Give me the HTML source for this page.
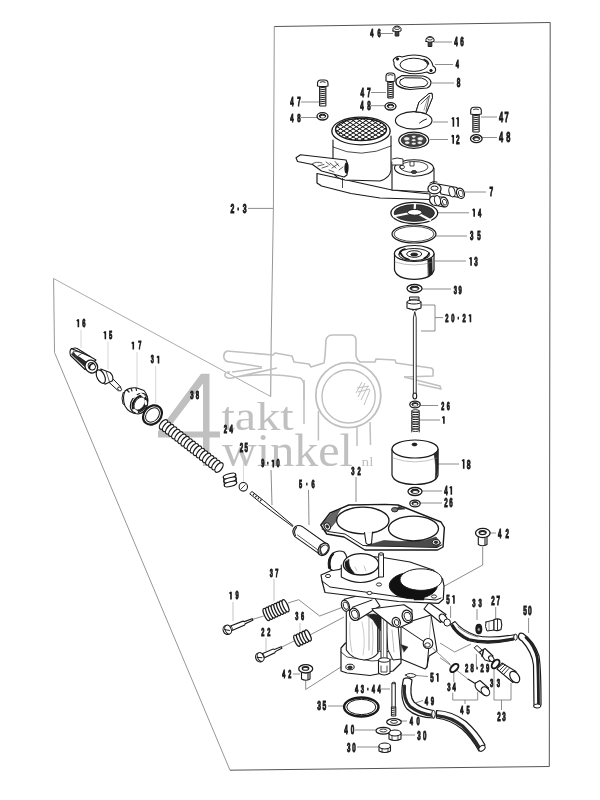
<!DOCTYPE html>
<html><head><meta charset="utf-8"><style>
html,body{margin:0;padding:0;background:#fff;}
svg{display:block;font-family:"Liberation Sans",sans-serif;filter:grayscale(1);}
</style></head><body>
<svg width="600" height="800" viewBox="0 0 600 800">
<rect width="600" height="800" fill="#fff"/>
<polyline points="274.3,26.5 550.2,22.5 549.3,766.5 230,770.2" fill="none" stroke="#555" stroke-width="1.0" stroke-linejoin="round" />
<polyline points="230,770.2 54.5,352.5 53.6,278.5" fill="none" stroke="#8a8a8a" stroke-width="0.9" stroke-linejoin="round" />
<polyline points="53.6,278.5 270.7,396.5" fill="none" stroke="#a0a0a0" stroke-width="0.9" stroke-linejoin="round" />
<polyline points="270.7,396.5 271.2,340 273.4,208 274.3,26.5" fill="none" stroke="#8a8a8a" stroke-width="0.9" stroke-linejoin="round" />
<path d="M201,373.7 L209.5,373.7 L209.5,431.5 L220,431.5 L220,437.5 L209.5,437.5 L209.5,466 L203,466 L203,437.5 L158,437.5 L158,431.5 Z M203,383.5 L166.5,431.5 L203,431.5 Z" fill="#c0c0c0" fill-rule="evenodd"/>
<text x="221.5" y="430" font-family="Liberation Serif" font-size="40" fill="#c0c0c0" textLength="72" lengthAdjust="spacingAndGlyphs">takt</text>
<text x="222" y="466" font-family="Liberation Serif" font-size="47" fill="#c0c0c0" textLength="131" lengthAdjust="spacingAndGlyphs">winkel</text>
<text x="361.5" y="465.5" font-family="Liberation Serif" font-size="12" fill="#c0c0c0" textLength="12" lengthAdjust="spacingAndGlyphs">nl</text>
<path d="M227,351 L273,355 L275,353 L292,356 L294,362 L309,364 L311,367 L324,363 L325,356 L326,340 Q327,335 333,335 L352,335 Q356,336 356,340 L356,356 Q357,360 360,362 L375,362 L376,359 L395,360 L396,363 L431,368 Q434,369 433,373 L433,376 L404,377" fill="none" stroke="#c0c0c0" stroke-width="1.6" stroke-linejoin="round"/>
<path d="M227,351 Q223,353 224,358 Q225,362 230,362 L262,367" fill="none" stroke="#c0c0c0" stroke-width="1.6" stroke-linejoin="round"/>
<path d="M230,372 Q224,372 225,376 Q227,379 232,378 L277,368 M232,372 L262,368 M235,377 Q270,372 300,378 Q304,380 304,386 L304,400" fill="none" stroke="#c0c0c0" stroke-width="1.6" stroke-linejoin="round"/>
<path d="M404,377 L440,386 L441,389 L418,384" fill="none" stroke="#c0c0c0" stroke-width="1.6" stroke-linejoin="round"/>
<ellipse cx="348.3" cy="395.2" rx="32.5" ry="32.5" fill="none" stroke="#c0c0c0" stroke-width="1.8" />
<ellipse cx="348.6" cy="396.4" rx="26.6" ry="26.6" fill="none" stroke="#c0c0c0" stroke-width="1.4" />
<path d="M362,382 L356,393 M365,383 L358,397 M368,386 L361,400 M370,390 L364,405 M357,388 L369,386 M358,392 L370,389" stroke="#c0c0c0" stroke-width="1"/>
<path d="M304,380 L304,424 M318.4,411 L318.4,440.5 M357,427 L357,446 M370,422 L370.5,445" stroke="#c0c0c0" stroke-width="1.5" fill="none"/>
<text transform="translate(371.95 37.25) scale(0.52 1)" text-anchor="middle" font-size="11.17" font-weight="bold" fill="#1a1a1a" stroke="#1a1a1a" stroke-width="0.8" style="vector-effect:non-scaling-stroke">4</text>
<text transform="translate(379.04 37.25) scale(0.52 1)" text-anchor="middle" font-size="11.17" font-weight="bold" fill="#1a1a1a" stroke="#1a1a1a" stroke-width="0.8" style="vector-effect:non-scaling-stroke">6</text>
<text transform="translate(456.12 46.45) scale(0.52 1)" text-anchor="middle" font-size="12.15" font-weight="bold" fill="#1a1a1a" stroke="#1a1a1a" stroke-width="0.8" style="vector-effect:non-scaling-stroke">4</text>
<text transform="translate(461.88 46.45) scale(0.52 1)" text-anchor="middle" font-size="12.15" font-weight="bold" fill="#1a1a1a" stroke="#1a1a1a" stroke-width="0.8" style="vector-effect:non-scaling-stroke">6</text>
<text transform="translate(457.25 68.05) scale(0.52 1)" text-anchor="middle" font-size="10.89" font-weight="bold" fill="#1a1a1a" stroke="#1a1a1a" stroke-width="0.8" style="vector-effect:non-scaling-stroke">4</text>
<text transform="translate(458.50 87.25) scale(0.52 1)" text-anchor="middle" font-size="12.57" font-weight="bold" fill="#1a1a1a" stroke="#1a1a1a" stroke-width="0.8" style="vector-effect:non-scaling-stroke">8</text>
<text transform="translate(292.07 105.75) scale(0.52 1)" text-anchor="middle" font-size="11.87" font-weight="bold" fill="#1a1a1a" stroke="#1a1a1a" stroke-width="0.8" style="vector-effect:non-scaling-stroke">4</text>
<text transform="translate(298.93 105.75) scale(0.52 1)" text-anchor="middle" font-size="11.87" font-weight="bold" fill="#1a1a1a" stroke="#1a1a1a" stroke-width="0.8" style="vector-effect:non-scaling-stroke">7</text>
<text transform="translate(292.02 122.25) scale(0.52 1)" text-anchor="middle" font-size="11.59" font-weight="bold" fill="#1a1a1a" stroke="#1a1a1a" stroke-width="0.8" style="vector-effect:non-scaling-stroke">4</text>
<text transform="translate(298.98 122.25) scale(0.52 1)" text-anchor="middle" font-size="11.59" font-weight="bold" fill="#1a1a1a" stroke="#1a1a1a" stroke-width="0.8" style="vector-effect:non-scaling-stroke">8</text>
<text transform="translate(362.19 97.25) scale(0.52 1)" text-anchor="middle" font-size="12.57" font-weight="bold" fill="#1a1a1a" stroke="#1a1a1a" stroke-width="0.8" style="vector-effect:non-scaling-stroke">4</text>
<text transform="translate(368.81 97.25) scale(0.52 1)" text-anchor="middle" font-size="12.57" font-weight="bold" fill="#1a1a1a" stroke="#1a1a1a" stroke-width="0.8" style="vector-effect:non-scaling-stroke">7</text>
<text transform="translate(362.07 109.75) scale(0.52 1)" text-anchor="middle" font-size="11.87" font-weight="bold" fill="#1a1a1a" stroke="#1a1a1a" stroke-width="0.8" style="vector-effect:non-scaling-stroke">4</text>
<text transform="translate(368.93 109.75) scale(0.52 1)" text-anchor="middle" font-size="11.87" font-weight="bold" fill="#1a1a1a" stroke="#1a1a1a" stroke-width="0.8" style="vector-effect:non-scaling-stroke">8</text>
<path d="M453.40,117.30 L453.40,126.80 M453.40,117.50 L451.80,119.00" stroke="#1a1a1a" stroke-width="1.6" fill="none" stroke-linecap="butt"/>
<path d="M458.10,117.30 L458.10,126.80 M458.10,117.50 L456.50,119.00" stroke="#1a1a1a" stroke-width="1.6" fill="none" stroke-linecap="butt"/>
<path d="M453.24,135.00 L453.24,143.80 M453.24,135.20 L451.64,136.70" stroke="#1a1a1a" stroke-width="1.6" fill="none" stroke-linecap="butt"/>
<text transform="translate(457.86 143.75) scale(0.52 1)" text-anchor="middle" font-size="12.29" font-weight="bold" fill="#1a1a1a" stroke="#1a1a1a" stroke-width="0.8" style="vector-effect:non-scaling-stroke">2</text>
<text transform="translate(501.16 122.45) scale(0.52 1)" text-anchor="middle" font-size="14.25" font-weight="bold" fill="#1a1a1a" stroke="#1a1a1a" stroke-width="0.8" style="vector-effect:non-scaling-stroke">4</text>
<text transform="translate(506.54 122.45) scale(0.52 1)" text-anchor="middle" font-size="14.25" font-weight="bold" fill="#1a1a1a" stroke="#1a1a1a" stroke-width="0.8" style="vector-effect:non-scaling-stroke">7</text>
<text transform="translate(501.16 142.45) scale(0.52 1)" text-anchor="middle" font-size="14.25" font-weight="bold" fill="#1a1a1a" stroke="#1a1a1a" stroke-width="0.8" style="vector-effect:non-scaling-stroke">4</text>
<text transform="translate(508.24 142.45) scale(0.52 1)" text-anchor="middle" font-size="14.25" font-weight="bold" fill="#1a1a1a" stroke="#1a1a1a" stroke-width="0.8" style="vector-effect:non-scaling-stroke">8</text>
<text transform="translate(491.40 195.95) scale(0.52 1)" text-anchor="middle" font-size="12.57" font-weight="bold" fill="#1a1a1a" stroke="#1a1a1a" stroke-width="0.8" style="vector-effect:non-scaling-stroke">7</text>
<text transform="translate(232.30 212.75) scale(0.52 1)" text-anchor="middle" font-size="13.27" font-weight="bold" fill="#1a1a1a" stroke="#1a1a1a" stroke-width="0.8" style="vector-effect:non-scaling-stroke">2</text>
<text transform="translate(238.50 212.75) scale(0.52 1)" text-anchor="middle" font-size="13.27" font-weight="bold" fill="#1a1a1a" stroke="#1a1a1a" stroke-width="0.8" style="vector-effect:non-scaling-stroke">·</text>
<text transform="translate(244.70 212.75) scale(0.52 1)" text-anchor="middle" font-size="13.27" font-weight="bold" fill="#1a1a1a" stroke="#1a1a1a" stroke-width="0.8" style="vector-effect:non-scaling-stroke">3</text>
<path d="M474.18,208.70 L474.18,216.80 M474.18,208.90 L472.58,210.40" stroke="#1a1a1a" stroke-width="1.6" fill="none" stroke-linecap="butt"/>
<text transform="translate(479.62 216.75) scale(0.52 1)" text-anchor="middle" font-size="11.31" font-weight="bold" fill="#1a1a1a" stroke="#1a1a1a" stroke-width="0.8" style="vector-effect:non-scaling-stroke">4</text>
<text transform="translate(471.77 239.75) scale(0.52 1)" text-anchor="middle" font-size="11.87" font-weight="bold" fill="#1a1a1a" stroke="#1a1a1a" stroke-width="0.8" style="vector-effect:non-scaling-stroke">3</text>
<text transform="translate(478.93 239.75) scale(0.52 1)" text-anchor="middle" font-size="11.87" font-weight="bold" fill="#1a1a1a" stroke="#1a1a1a" stroke-width="0.8" style="vector-effect:non-scaling-stroke">5</text>
<path d="M471.07,257.30 L471.07,265.80 M471.07,257.50 L469.47,259.00" stroke="#1a1a1a" stroke-width="1.6" fill="none" stroke-linecap="butt"/>
<text transform="translate(475.93 265.75) scale(0.52 1)" text-anchor="middle" font-size="11.87" font-weight="bold" fill="#1a1a1a" stroke="#1a1a1a" stroke-width="0.8" style="vector-effect:non-scaling-stroke">3</text>
<text transform="translate(455.35 293.75) scale(0.52 1)" text-anchor="middle" font-size="11.17" font-weight="bold" fill="#1a1a1a" stroke="#1a1a1a" stroke-width="0.8" style="vector-effect:non-scaling-stroke">3</text>
<text transform="translate(460.04 293.75) scale(0.52 1)" text-anchor="middle" font-size="11.17" font-weight="bold" fill="#1a1a1a" stroke="#1a1a1a" stroke-width="0.8" style="vector-effect:non-scaling-stroke">9</text>
<text transform="translate(446.95 322.25) scale(0.52 1)" text-anchor="middle" font-size="11.17" font-weight="bold" fill="#1a1a1a" stroke="#1a1a1a" stroke-width="0.8" style="vector-effect:non-scaling-stroke">2</text>
<text transform="translate(452.88 322.25) scale(0.52 1)" text-anchor="middle" font-size="11.17" font-weight="bold" fill="#1a1a1a" stroke="#1a1a1a" stroke-width="0.8" style="vector-effect:non-scaling-stroke">0</text>
<text transform="translate(458.50 322.25) scale(0.52 1)" text-anchor="middle" font-size="11.17" font-weight="bold" fill="#1a1a1a" stroke="#1a1a1a" stroke-width="0.8" style="vector-effect:non-scaling-stroke">·</text>
<text transform="translate(464.12 322.25) scale(0.52 1)" text-anchor="middle" font-size="11.17" font-weight="bold" fill="#1a1a1a" stroke="#1a1a1a" stroke-width="0.8" style="vector-effect:non-scaling-stroke">2</text>
<path d="M470.44,314.30 L470.44,322.30 M470.44,314.50 L468.84,316.00" stroke="#1a1a1a" stroke-width="1.6" fill="none" stroke-linecap="butt"/>
<text transform="translate(442.84 409.75) scale(0.52 1)" text-anchor="middle" font-size="10.47" font-weight="bold" fill="#1a1a1a" stroke="#1a1a1a" stroke-width="0.8" style="vector-effect:non-scaling-stroke">2</text>
<text transform="translate(448.16 409.75) scale(0.52 1)" text-anchor="middle" font-size="10.47" font-weight="bold" fill="#1a1a1a" stroke="#1a1a1a" stroke-width="0.8" style="vector-effect:non-scaling-stroke">6</text>
<path d="M443.90,416.30 L443.90,423.80 M443.90,416.50 L442.30,418.00" stroke="#1a1a1a" stroke-width="1.6" fill="none" stroke-linecap="butt"/>
<path d="M463.70,459.30 L463.70,468.80 M463.70,459.50 L462.10,461.00" stroke="#1a1a1a" stroke-width="1.6" fill="none" stroke-linecap="butt"/>
<text transform="translate(468.70 468.75) scale(0.52 1)" text-anchor="middle" font-size="13.27" font-weight="bold" fill="#1a1a1a" stroke="#1a1a1a" stroke-width="0.8" style="vector-effect:non-scaling-stroke">8</text>
<text transform="translate(446.07 494.75) scale(0.52 1)" text-anchor="middle" font-size="11.87" font-weight="bold" fill="#1a1a1a" stroke="#1a1a1a" stroke-width="0.8" style="vector-effect:non-scaling-stroke">4</text>
<path d="M451.33,486.30 L451.33,494.80 M451.33,486.50 L449.73,488.00" stroke="#1a1a1a" stroke-width="1.6" fill="none" stroke-linecap="butt"/>
<text transform="translate(446.07 506.75) scale(0.52 1)" text-anchor="middle" font-size="11.87" font-weight="bold" fill="#1a1a1a" stroke="#1a1a1a" stroke-width="0.8" style="vector-effect:non-scaling-stroke">2</text>
<text transform="translate(450.93 506.75) scale(0.52 1)" text-anchor="middle" font-size="11.87" font-weight="bold" fill="#1a1a1a" stroke="#1a1a1a" stroke-width="0.8" style="vector-effect:non-scaling-stroke">6</text>
<text transform="translate(499.77 538.05) scale(0.52 1)" text-anchor="middle" font-size="11.87" font-weight="bold" fill="#1a1a1a" stroke="#1a1a1a" stroke-width="0.8" style="vector-effect:non-scaling-stroke">4</text>
<text transform="translate(507.23 538.05) scale(0.52 1)" text-anchor="middle" font-size="11.87" font-weight="bold" fill="#1a1a1a" stroke="#1a1a1a" stroke-width="0.8" style="vector-effect:non-scaling-stroke">2</text>
<text transform="translate(352.95 475.25) scale(0.52 1)" text-anchor="middle" font-size="11.17" font-weight="bold" fill="#1a1a1a" stroke="#1a1a1a" stroke-width="0.8" style="vector-effect:non-scaling-stroke">3</text>
<text transform="translate(359.04 475.25) scale(0.52 1)" text-anchor="middle" font-size="11.17" font-weight="bold" fill="#1a1a1a" stroke="#1a1a1a" stroke-width="0.8" style="vector-effect:non-scaling-stroke">2</text>
<text transform="translate(300.66 488.05) scale(0.52 1)" text-anchor="middle" font-size="10.89" font-weight="bold" fill="#1a1a1a" stroke="#1a1a1a" stroke-width="0.8" style="vector-effect:non-scaling-stroke">5</text>
<text transform="translate(306.88 488.05) scale(0.52 1)" text-anchor="middle" font-size="10.89" font-weight="bold" fill="#1a1a1a" stroke="#1a1a1a" stroke-width="0.8" style="vector-effect:non-scaling-stroke">·</text>
<text transform="translate(313.09 488.05) scale(0.52 1)" text-anchor="middle" font-size="10.89" font-weight="bold" fill="#1a1a1a" stroke="#1a1a1a" stroke-width="0.8" style="vector-effect:non-scaling-stroke">6</text>
<path d="M78.36,319.30 L78.36,327.30 M78.36,319.50 L76.76,321.00" stroke="#1a1a1a" stroke-width="1.6" fill="none" stroke-linecap="butt"/>
<text transform="translate(83.75 327.25) scale(0.52 1)" text-anchor="middle" font-size="11.17" font-weight="bold" fill="#1a1a1a" stroke="#1a1a1a" stroke-width="0.8" style="vector-effect:non-scaling-stroke">6</text>
<path d="M105.36,331.30 L105.36,339.30 M105.36,331.50 L103.76,333.00" stroke="#1a1a1a" stroke-width="1.6" fill="none" stroke-linecap="butt"/>
<text transform="translate(110.55 339.25) scale(0.52 1)" text-anchor="middle" font-size="11.17" font-weight="bold" fill="#1a1a1a" stroke="#1a1a1a" stroke-width="0.8" style="vector-effect:non-scaling-stroke">5</text>
<path d="M133.29,341.80 L133.29,349.50 M133.29,342.00 L131.69,343.50" stroke="#1a1a1a" stroke-width="1.6" fill="none" stroke-linecap="butt"/>
<text transform="translate(139.81 349.45) scale(0.52 1)" text-anchor="middle" font-size="10.75" font-weight="bold" fill="#1a1a1a" stroke="#1a1a1a" stroke-width="0.8" style="vector-effect:non-scaling-stroke">7</text>
<text transform="translate(152.39 363.45) scale(0.52 1)" text-anchor="middle" font-size="10.75" font-weight="bold" fill="#1a1a1a" stroke="#1a1a1a" stroke-width="0.8" style="vector-effect:non-scaling-stroke">3</text>
<path d="M158.51,355.80 L158.51,363.50 M158.51,356.00 L156.91,357.50" stroke="#1a1a1a" stroke-width="1.6" fill="none" stroke-linecap="butt"/>
<text transform="translate(192.00 399.45) scale(0.52 1)" text-anchor="middle" font-size="11.45" font-weight="bold" fill="#1a1a1a" stroke="#1a1a1a" stroke-width="0.8" style="vector-effect:non-scaling-stroke">3</text>
<text transform="translate(197.50 399.45) scale(0.52 1)" text-anchor="middle" font-size="11.45" font-weight="bold" fill="#1a1a1a" stroke="#1a1a1a" stroke-width="0.8" style="vector-effect:non-scaling-stroke">8</text>
<text transform="translate(225.52 433.05) scale(0.52 1)" text-anchor="middle" font-size="11.59" font-weight="bold" fill="#1a1a1a" stroke="#1a1a1a" stroke-width="0.8" style="vector-effect:non-scaling-stroke">2</text>
<text transform="translate(231.28 433.05) scale(0.52 1)" text-anchor="middle" font-size="11.59" font-weight="bold" fill="#1a1a1a" stroke="#1a1a1a" stroke-width="0.8" style="vector-effect:non-scaling-stroke">4</text>
<text transform="translate(241.37 451.75) scale(0.52 1)" text-anchor="middle" font-size="11.87" font-weight="bold" fill="#1a1a1a" stroke="#1a1a1a" stroke-width="0.8" style="vector-effect:non-scaling-stroke">2</text>
<text transform="translate(246.23 451.75) scale(0.52 1)" text-anchor="middle" font-size="11.87" font-weight="bold" fill="#1a1a1a" stroke="#1a1a1a" stroke-width="0.8" style="vector-effect:non-scaling-stroke">5</text>
<text transform="translate(262.89 467.45) scale(0.52 1)" text-anchor="middle" font-size="10.75" font-weight="bold" fill="#1a1a1a" stroke="#1a1a1a" stroke-width="0.8" style="vector-effect:non-scaling-stroke">9</text>
<text transform="translate(267.87 467.45) scale(0.52 1)" text-anchor="middle" font-size="10.75" font-weight="bold" fill="#1a1a1a" stroke="#1a1a1a" stroke-width="0.8" style="vector-effect:non-scaling-stroke">·</text>
<path d="M273.26,459.80 L273.26,467.50 M273.26,460.00 L271.66,461.50" stroke="#1a1a1a" stroke-width="1.6" fill="none" stroke-linecap="butt"/>
<text transform="translate(278.11 467.45) scale(0.52 1)" text-anchor="middle" font-size="10.75" font-weight="bold" fill="#1a1a1a" stroke="#1a1a1a" stroke-width="0.8" style="vector-effect:non-scaling-stroke">0</text>
<text transform="translate(271.39 577.25) scale(0.52 1)" text-anchor="middle" font-size="10.75" font-weight="bold" fill="#1a1a1a" stroke="#1a1a1a" stroke-width="0.8" style="vector-effect:non-scaling-stroke">3</text>
<text transform="translate(276.91 577.25) scale(0.52 1)" text-anchor="middle" font-size="10.75" font-weight="bold" fill="#1a1a1a" stroke="#1a1a1a" stroke-width="0.8" style="vector-effect:non-scaling-stroke">7</text>
<path d="M230.99,591.80 L230.99,599.50 M230.99,592.00 L229.39,593.50" stroke="#1a1a1a" stroke-width="1.6" fill="none" stroke-linecap="butt"/>
<text transform="translate(237.11 599.45) scale(0.52 1)" text-anchor="middle" font-size="10.75" font-weight="bold" fill="#1a1a1a" stroke="#1a1a1a" stroke-width="0.8" style="vector-effect:non-scaling-stroke">9</text>
<text transform="translate(296.89 620.45) scale(0.52 1)" text-anchor="middle" font-size="10.75" font-weight="bold" fill="#1a1a1a" stroke="#1a1a1a" stroke-width="0.8" style="vector-effect:non-scaling-stroke">3</text>
<text transform="translate(302.61 620.45) scale(0.52 1)" text-anchor="middle" font-size="10.75" font-weight="bold" fill="#1a1a1a" stroke="#1a1a1a" stroke-width="0.8" style="vector-effect:non-scaling-stroke">6</text>
<text transform="translate(262.91 635.75) scale(0.52 1)" text-anchor="middle" font-size="10.89" font-weight="bold" fill="#1a1a1a" stroke="#1a1a1a" stroke-width="0.8" style="vector-effect:non-scaling-stroke">2</text>
<text transform="translate(268.79 635.75) scale(0.52 1)" text-anchor="middle" font-size="10.89" font-weight="bold" fill="#1a1a1a" stroke="#1a1a1a" stroke-width="0.8" style="vector-effect:non-scaling-stroke">2</text>
<text transform="translate(283.86 677.55) scale(0.52 1)" text-anchor="middle" font-size="10.61" font-weight="bold" fill="#1a1a1a" stroke="#1a1a1a" stroke-width="0.8" style="vector-effect:non-scaling-stroke">4</text>
<text transform="translate(289.84 677.55) scale(0.52 1)" text-anchor="middle" font-size="10.61" font-weight="bold" fill="#1a1a1a" stroke="#1a1a1a" stroke-width="0.8" style="vector-effect:non-scaling-stroke">2</text>
<text transform="translate(448.07 603.75) scale(0.52 1)" text-anchor="middle" font-size="11.87" font-weight="bold" fill="#1a1a1a" stroke="#1a1a1a" stroke-width="0.8" style="vector-effect:non-scaling-stroke">5</text>
<path d="M453.93,595.30 L453.93,603.80 M453.93,595.50 L452.33,597.00" stroke="#1a1a1a" stroke-width="1.6" fill="none" stroke-linecap="butt"/>
<text transform="translate(473.98 606.75) scale(0.52 1)" text-anchor="middle" font-size="11.31" font-weight="bold" fill="#1a1a1a" stroke="#1a1a1a" stroke-width="0.8" style="vector-effect:non-scaling-stroke">3</text>
<text transform="translate(480.02 606.75) scale(0.52 1)" text-anchor="middle" font-size="11.31" font-weight="bold" fill="#1a1a1a" stroke="#1a1a1a" stroke-width="0.8" style="vector-effect:non-scaling-stroke">3</text>
<text transform="translate(493.07 604.75) scale(0.52 1)" text-anchor="middle" font-size="11.87" font-weight="bold" fill="#1a1a1a" stroke="#1a1a1a" stroke-width="0.8" style="vector-effect:non-scaling-stroke">2</text>
<text transform="translate(498.33 604.75) scale(0.52 1)" text-anchor="middle" font-size="11.87" font-weight="bold" fill="#1a1a1a" stroke="#1a1a1a" stroke-width="0.8" style="vector-effect:non-scaling-stroke">7</text>
<text transform="translate(525.01 615.35) scale(0.52 1)" text-anchor="middle" font-size="12.71" font-weight="bold" fill="#1a1a1a" stroke="#1a1a1a" stroke-width="0.8" style="vector-effect:non-scaling-stroke">5</text>
<text transform="translate(529.79 615.35) scale(0.52 1)" text-anchor="middle" font-size="12.71" font-weight="bold" fill="#1a1a1a" stroke="#1a1a1a" stroke-width="0.8" style="vector-effect:non-scaling-stroke">0</text>
<text transform="translate(466.68 671.75) scale(0.52 1)" text-anchor="middle" font-size="11.31" font-weight="bold" fill="#1a1a1a" stroke="#1a1a1a" stroke-width="0.8" style="vector-effect:non-scaling-stroke">2</text>
<text transform="translate(472.05 671.75) scale(0.52 1)" text-anchor="middle" font-size="11.31" font-weight="bold" fill="#1a1a1a" stroke="#1a1a1a" stroke-width="0.8" style="vector-effect:non-scaling-stroke">8</text>
<text transform="translate(477.15 671.75) scale(0.52 1)" text-anchor="middle" font-size="11.31" font-weight="bold" fill="#1a1a1a" stroke="#1a1a1a" stroke-width="0.8" style="vector-effect:non-scaling-stroke">·</text>
<text transform="translate(482.25 671.75) scale(0.52 1)" text-anchor="middle" font-size="11.31" font-weight="bold" fill="#1a1a1a" stroke="#1a1a1a" stroke-width="0.8" style="vector-effect:non-scaling-stroke">2</text>
<text transform="translate(487.62 671.75) scale(0.52 1)" text-anchor="middle" font-size="11.31" font-weight="bold" fill="#1a1a1a" stroke="#1a1a1a" stroke-width="0.8" style="vector-effect:non-scaling-stroke">9</text>
<text transform="translate(491.60 687.05) scale(0.52 1)" text-anchor="middle" font-size="11.45" font-weight="bold" fill="#1a1a1a" stroke="#1a1a1a" stroke-width="0.8" style="vector-effect:non-scaling-stroke">3</text>
<text transform="translate(498.40 687.05) scale(0.52 1)" text-anchor="middle" font-size="11.45" font-weight="bold" fill="#1a1a1a" stroke="#1a1a1a" stroke-width="0.8" style="vector-effect:non-scaling-stroke">3</text>
<text transform="translate(448.98 691.35) scale(0.52 1)" text-anchor="middle" font-size="11.31" font-weight="bold" fill="#1a1a1a" stroke="#1a1a1a" stroke-width="0.8" style="vector-effect:non-scaling-stroke">3</text>
<text transform="translate(454.02 691.35) scale(0.52 1)" text-anchor="middle" font-size="11.31" font-weight="bold" fill="#1a1a1a" stroke="#1a1a1a" stroke-width="0.8" style="vector-effect:non-scaling-stroke">4</text>
<text transform="translate(461.91 713.75) scale(0.52 1)" text-anchor="middle" font-size="10.89" font-weight="bold" fill="#1a1a1a" stroke="#1a1a1a" stroke-width="0.8" style="vector-effect:non-scaling-stroke">4</text>
<text transform="translate(468.09 713.75) scale(0.52 1)" text-anchor="middle" font-size="10.89" font-weight="bold" fill="#1a1a1a" stroke="#1a1a1a" stroke-width="0.8" style="vector-effect:non-scaling-stroke">5</text>
<text transform="translate(499.07 720.75) scale(0.52 1)" text-anchor="middle" font-size="11.87" font-weight="bold" fill="#1a1a1a" stroke="#1a1a1a" stroke-width="0.8" style="vector-effect:non-scaling-stroke">2</text>
<text transform="translate(503.93 720.75) scale(0.52 1)" text-anchor="middle" font-size="11.87" font-weight="bold" fill="#1a1a1a" stroke="#1a1a1a" stroke-width="0.8" style="vector-effect:non-scaling-stroke">3</text>
<text transform="translate(432.07 681.75) scale(0.52 1)" text-anchor="middle" font-size="11.87" font-weight="bold" fill="#1a1a1a" stroke="#1a1a1a" stroke-width="0.8" style="vector-effect:non-scaling-stroke">5</text>
<path d="M437.83,673.30 L437.83,681.80 M437.83,673.50 L436.23,675.00" stroke="#1a1a1a" stroke-width="1.6" fill="none" stroke-linecap="butt"/>
<text transform="translate(426.52 705.05) scale(0.52 1)" text-anchor="middle" font-size="11.59" font-weight="bold" fill="#1a1a1a" stroke="#1a1a1a" stroke-width="0.8" style="vector-effect:non-scaling-stroke">4</text>
<text transform="translate(432.48 705.05) scale(0.52 1)" text-anchor="middle" font-size="11.59" font-weight="bold" fill="#1a1a1a" stroke="#1a1a1a" stroke-width="0.8" style="vector-effect:non-scaling-stroke">9</text>
<text transform="translate(356.65 693.25) scale(0.52 1)" text-anchor="middle" font-size="11.17" font-weight="bold" fill="#1a1a1a" stroke="#1a1a1a" stroke-width="0.8" style="vector-effect:non-scaling-stroke">4</text>
<text transform="translate(362.40 693.25) scale(0.52 1)" text-anchor="middle" font-size="11.17" font-weight="bold" fill="#1a1a1a" stroke="#1a1a1a" stroke-width="0.8" style="vector-effect:non-scaling-stroke">3</text>
<text transform="translate(367.85 693.25) scale(0.52 1)" text-anchor="middle" font-size="11.17" font-weight="bold" fill="#1a1a1a" stroke="#1a1a1a" stroke-width="0.8" style="vector-effect:non-scaling-stroke">·</text>
<text transform="translate(373.30 693.25) scale(0.52 1)" text-anchor="middle" font-size="11.17" font-weight="bold" fill="#1a1a1a" stroke="#1a1a1a" stroke-width="0.8" style="vector-effect:non-scaling-stroke">4</text>
<text transform="translate(379.04 693.25) scale(0.52 1)" text-anchor="middle" font-size="11.17" font-weight="bold" fill="#1a1a1a" stroke="#1a1a1a" stroke-width="0.8" style="vector-effect:non-scaling-stroke">4</text>
<text transform="translate(319.23 710.45) scale(0.52 1)" text-anchor="middle" font-size="12.85" font-weight="bold" fill="#1a1a1a" stroke="#1a1a1a" stroke-width="0.8" style="vector-effect:non-scaling-stroke">3</text>
<text transform="translate(324.47 710.45) scale(0.52 1)" text-anchor="middle" font-size="12.85" font-weight="bold" fill="#1a1a1a" stroke="#1a1a1a" stroke-width="0.8" style="vector-effect:non-scaling-stroke">5</text>
<text transform="translate(411.25 725.25) scale(0.52 1)" text-anchor="middle" font-size="11.17" font-weight="bold" fill="#1a1a1a" stroke="#1a1a1a" stroke-width="0.8" style="vector-effect:non-scaling-stroke">4</text>
<text transform="translate(418.04 725.25) scale(0.52 1)" text-anchor="middle" font-size="11.17" font-weight="bold" fill="#1a1a1a" stroke="#1a1a1a" stroke-width="0.8" style="vector-effect:non-scaling-stroke">0</text>
<text transform="translate(346.12 734.45) scale(0.52 1)" text-anchor="middle" font-size="12.15" font-weight="bold" fill="#1a1a1a" stroke="#1a1a1a" stroke-width="0.8" style="vector-effect:non-scaling-stroke">4</text>
<text transform="translate(352.58 734.45) scale(0.52 1)" text-anchor="middle" font-size="12.15" font-weight="bold" fill="#1a1a1a" stroke="#1a1a1a" stroke-width="0.8" style="vector-effect:non-scaling-stroke">0</text>
<text transform="translate(419.07 739.75) scale(0.52 1)" text-anchor="middle" font-size="11.87" font-weight="bold" fill="#1a1a1a" stroke="#1a1a1a" stroke-width="0.8" style="vector-effect:non-scaling-stroke">3</text>
<text transform="translate(424.63 739.75) scale(0.52 1)" text-anchor="middle" font-size="11.87" font-weight="bold" fill="#1a1a1a" stroke="#1a1a1a" stroke-width="0.8" style="vector-effect:non-scaling-stroke">0</text>
<text transform="translate(348.77 751.75) scale(0.52 1)" text-anchor="middle" font-size="11.87" font-weight="bold" fill="#1a1a1a" stroke="#1a1a1a" stroke-width="0.8" style="vector-effect:non-scaling-stroke">3</text>
<text transform="translate(353.93 751.75) scale(0.52 1)" text-anchor="middle" font-size="11.87" font-weight="bold" fill="#1a1a1a" stroke="#1a1a1a" stroke-width="0.8" style="vector-effect:non-scaling-stroke">0</text>
<line x1="381" y1="33.5" x2="393" y2="33.5" stroke="#6e6e6e" stroke-width="0.8" />
<line x1="434" y1="42" x2="452" y2="42" stroke="#6e6e6e" stroke-width="0.8" />
<line x1="435" y1="64.5" x2="453" y2="64.5" stroke="#6e6e6e" stroke-width="0.8" />
<line x1="432" y1="83" x2="454" y2="83" stroke="#6e6e6e" stroke-width="0.8" />
<line x1="301" y1="102" x2="319" y2="102" stroke="#6e6e6e" stroke-width="0.8" />
<line x1="301" y1="117.5" x2="317" y2="117.5" stroke="#6e6e6e" stroke-width="0.8" />
<line x1="371" y1="92.5" x2="386" y2="92.5" stroke="#6e6e6e" stroke-width="0.8" />
<line x1="371" y1="105.7" x2="385" y2="105.7" stroke="#6e6e6e" stroke-width="0.8" />
<line x1="433" y1="122" x2="448" y2="122" stroke="#6e6e6e" stroke-width="0.8" />
<line x1="430" y1="139.5" x2="448" y2="139.5" stroke="#6e6e6e" stroke-width="0.8" />
<line x1="481" y1="117" x2="497" y2="117" stroke="#6e6e6e" stroke-width="0.8" />
<line x1="482" y1="137.5" x2="497" y2="137.5" stroke="#6e6e6e" stroke-width="0.8" />
<line x1="465" y1="192" x2="486" y2="192" stroke="#6e6e6e" stroke-width="0.8" />
<line x1="248" y1="208.4" x2="273" y2="208.4" stroke="#6e6e6e" stroke-width="0.8" />
<line x1="435" y1="212.8" x2="469" y2="212.8" stroke="#6e6e6e" stroke-width="0.8" />
<line x1="436" y1="236" x2="467" y2="236" stroke="#6e6e6e" stroke-width="0.8" />
<line x1="435" y1="261" x2="466" y2="261" stroke="#6e6e6e" stroke-width="0.8" />
<line x1="422" y1="289" x2="451" y2="289" stroke="#6e6e6e" stroke-width="0.8" />
<line x1="420" y1="405.5" x2="438" y2="405.5" stroke="#6e6e6e" stroke-width="0.8" />
<line x1="419" y1="420" x2="440" y2="420" stroke="#6e6e6e" stroke-width="0.8" />
<line x1="438" y1="464" x2="459" y2="464" stroke="#6e6e6e" stroke-width="0.8" />
<line x1="422" y1="491" x2="442" y2="491" stroke="#6e6e6e" stroke-width="0.8" />
<line x1="420" y1="503" x2="442" y2="503" stroke="#6e6e6e" stroke-width="0.8" />
<line x1="490" y1="533" x2="496" y2="533" stroke="#6e6e6e" stroke-width="0.8" />
<line x1="356" y1="477" x2="356" y2="502" stroke="#6e6e6e" stroke-width="0.8" />
<line x1="308.5" y1="490" x2="309" y2="525" stroke="#6e6e6e" stroke-width="0.8" />
<line x1="271" y1="470" x2="272" y2="505" stroke="#6e6e6e" stroke-width="0.8" />
<line x1="292.8" y1="674" x2="300" y2="674" stroke="#6e6e6e" stroke-width="0.8" />
<line x1="450.6" y1="606" x2="450.6" y2="618" stroke="#6e6e6e" stroke-width="0.8" />
<line x1="477" y1="609" x2="477" y2="620" stroke="#6e6e6e" stroke-width="0.8" />
<line x1="495.7" y1="607" x2="495.7" y2="620" stroke="#6e6e6e" stroke-width="0.8" />
<line x1="528.6" y1="618" x2="528.6" y2="633" stroke="#6e6e6e" stroke-width="0.8" />
<line x1="476.4" y1="654" x2="476.4" y2="667" stroke="#6e6e6e" stroke-width="0.8" />
<line x1="453.8" y1="672" x2="453.8" y2="682" stroke="#6e6e6e" stroke-width="0.8" />
<line x1="328" y1="706" x2="344" y2="706" stroke="#6e6e6e" stroke-width="0.8" />
<line x1="401" y1="721" x2="407" y2="721" stroke="#6e6e6e" stroke-width="0.8" />
<line x1="355" y1="730" x2="376" y2="730" stroke="#6e6e6e" stroke-width="0.8" />
<line x1="401" y1="735" x2="415" y2="735" stroke="#6e6e6e" stroke-width="0.8" />
<line x1="357" y1="747" x2="378" y2="747" stroke="#6e6e6e" stroke-width="0.8" />
<line x1="243.5" y1="454" x2="243.5" y2="482" stroke="#c8c8c8" stroke-width="0.7" />
<line x1="81" y1="330" x2="81" y2="348" stroke="#cccccc" stroke-width="0.8" />
<line x1="108" y1="341.5" x2="108" y2="369.5" stroke="#cccccc" stroke-width="0.8" />
<line x1="137" y1="352" x2="137" y2="387" stroke="#cccccc" stroke-width="0.8" />
<line x1="155.7" y1="366" x2="155.7" y2="403" stroke="#cccccc" stroke-width="0.8" />
<line x1="274" y1="579" x2="274" y2="601" stroke="#b4b4b4" stroke-width="0.8" />
<line x1="233" y1="602" x2="233" y2="621" stroke="#b4b4b4" stroke-width="0.8" />
<line x1="300" y1="623" x2="300" y2="632" stroke="#b4b4b4" stroke-width="0.8" />
<line x1="266" y1="638" x2="266" y2="651" stroke="#b4b4b4" stroke-width="0.8" />
<polyline points="421,305 435,305 435,331 421,331" fill="none" stroke="#6e6e6e" stroke-width="0.8" stroke-linejoin="round" />
<line x1="435" y1="317.6" x2="443" y2="317.6" stroke="#6e6e6e" stroke-width="0.8" />
<polyline points="452.75,692.7 452.75,700 477.7,700 477.7,692" fill="none" stroke="#6e6e6e" stroke-width="0.8" stroke-linejoin="round" />
<line x1="465" y1="700" x2="465" y2="704" stroke="#6e6e6e" stroke-width="0.8" />
<polyline points="494,669 494,700 511,700 511,683" fill="none" stroke="#6e6e6e" stroke-width="0.8" stroke-linejoin="round" />
<line x1="501.5" y1="700" x2="501.5" y2="710" stroke="#6e6e6e" stroke-width="0.8" />
<polyline points="482.7,546.7 482.7,565 443.3,586.7" fill="none" stroke="#6e6e6e" stroke-width="0.8" stroke-linejoin="round" />
<polyline points="305.7,681 305.7,689.5 347.7,662.7" fill="none" stroke="#6e6e6e" stroke-width="0.8" stroke-linejoin="round" />
<polyline points="252,619.5 263.7,616" fill="none" stroke="#6e6e6e" stroke-width="0.8" stroke-linejoin="round" />
<polyline points="288,603 298.7,599.7 319.7,616 344,606.7" fill="none" stroke="#6e6e6e" stroke-width="0.8" stroke-linejoin="round" />
<polyline points="281,647.5 294,641" fill="none" stroke="#6e6e6e" stroke-width="0.8" stroke-linejoin="round" />
<polyline points="310,635 344,617" fill="none" stroke="#6e6e6e" stroke-width="0.8" stroke-linejoin="round" />
<line x1="381" y1="689" x2="390" y2="689" stroke="#6e6e6e" stroke-width="0.8" />
<path d="M395.2,31.5 L395.2,36 L398.8,36 L398.8,31.5" fill="#444" stroke="#1a1a1a" stroke-width="1.0" stroke-linejoin="round" stroke-linecap="round" />
<path d="M393,31 L393,28.5 Q394,26 397,26 Q400,26 401,28.5 L401,31 Q397,32.5 393,31 Z" fill="#fff" stroke="#1a1a1a" stroke-width="1.0" stroke-linejoin="round" stroke-linecap="round" />
<ellipse cx="397" cy="28.2" rx="2.6" ry="1.3" fill="#fff" stroke="#1a1a1a" stroke-width="0.8" />
<path d="M428.2,42.0 L428.2,46.5 L431.8,46.5 L431.8,42.0" fill="#444" stroke="#1a1a1a" stroke-width="1.0" stroke-linejoin="round" stroke-linecap="round" />
<path d="M426,41.5 L426,39.0 Q427,36.5 430,36.5 Q433,36.5 434,39.0 L434,41.5 Q430,43.0 426,41.5 Z" fill="#fff" stroke="#1a1a1a" stroke-width="1.0" stroke-linejoin="round" stroke-linecap="round" />
<ellipse cx="430" cy="38.7" rx="2.6" ry="1.3" fill="#fff" stroke="#1a1a1a" stroke-width="0.8" />
<path d="M319.6,86 L319.6,106 L325.9,106 L325.9,86" fill="#fff" stroke="#1a1a1a" stroke-width="1.0" stroke-linejoin="round" stroke-linecap="round" />
<line x1="319.6" y1="88" x2="325.9" y2="87" stroke="#1a1a1a" stroke-width="1.0" />
<line x1="319.6" y1="90.0" x2="325.9" y2="89.0" stroke="#1a1a1a" stroke-width="1.0" />
<line x1="319.6" y1="92.0" x2="325.9" y2="91.0" stroke="#1a1a1a" stroke-width="1.0" />
<line x1="319.6" y1="94.0" x2="325.9" y2="93.0" stroke="#1a1a1a" stroke-width="1.0" />
<line x1="319.6" y1="96.0" x2="325.9" y2="95.0" stroke="#1a1a1a" stroke-width="1.0" />
<line x1="319.6" y1="98.0" x2="325.9" y2="97.0" stroke="#1a1a1a" stroke-width="1.0" />
<line x1="319.6" y1="100.0" x2="325.9" y2="99.0" stroke="#1a1a1a" stroke-width="1.0" />
<line x1="319.6" y1="102.0" x2="325.9" y2="101.0" stroke="#1a1a1a" stroke-width="1.0" />
<line x1="319.6" y1="104.0" x2="325.9" y2="103.0" stroke="#1a1a1a" stroke-width="1.0" />
<path d="M317.5,86 L317.5,83.5 Q317.5,80 321.0,80 L324.5,80 Q328,80 328,83.5 L328,86 Q322.75,87.2 317.5,86 Z" fill="#fff" stroke="#1a1a1a" stroke-width="1.1" stroke-linejoin="round" stroke-linecap="round" />
<path d="M320.25,82.2 Q322.75,80.8 325.25,82.2" fill="none" stroke="#1a1a1a" stroke-width="0.9" stroke-linejoin="round" stroke-linecap="round" />
<path d="M387.8,81 L387.8,98 L393.2,98 L393.2,81" fill="#fff" stroke="#1a1a1a" stroke-width="1.0" stroke-linejoin="round" stroke-linecap="round" />
<line x1="387.8" y1="83" x2="393.2" y2="82" stroke="#1a1a1a" stroke-width="1.0" />
<line x1="387.8" y1="85.0" x2="393.2" y2="84.0" stroke="#1a1a1a" stroke-width="1.0" />
<line x1="387.8" y1="87.0" x2="393.2" y2="86.0" stroke="#1a1a1a" stroke-width="1.0" />
<line x1="387.8" y1="89.0" x2="393.2" y2="88.0" stroke="#1a1a1a" stroke-width="1.0" />
<line x1="387.8" y1="91.0" x2="393.2" y2="90.0" stroke="#1a1a1a" stroke-width="1.0" />
<line x1="387.8" y1="93.0" x2="393.2" y2="92.0" stroke="#1a1a1a" stroke-width="1.0" />
<line x1="387.8" y1="95.0" x2="393.2" y2="94.0" stroke="#1a1a1a" stroke-width="1.0" />
<line x1="387.8" y1="97.0" x2="393.2" y2="96.0" stroke="#1a1a1a" stroke-width="1.0" />
<path d="M386,81 L386,76.5 Q386,73 389.5,73 L391.5,73 Q395,73 395,76.5 L395,81 Q390.5,82.2 386,81 Z" fill="#fff" stroke="#1a1a1a" stroke-width="1.1" stroke-linejoin="round" stroke-linecap="round" />
<path d="M388.0,75.2 Q390.5,73.8 393.0,75.2" fill="none" stroke="#1a1a1a" stroke-width="0.9" stroke-linejoin="round" stroke-linecap="round" />
<path d="M472.82,114 L472.82,132 L479.18,132 L479.18,114" fill="#fff" stroke="#1a1a1a" stroke-width="1.0" stroke-linejoin="round" stroke-linecap="round" />
<line x1="472.82" y1="116" x2="479.18" y2="115" stroke="#1a1a1a" stroke-width="1.0" />
<line x1="472.82" y1="118.0" x2="479.18" y2="117.0" stroke="#1a1a1a" stroke-width="1.0" />
<line x1="472.82" y1="120.0" x2="479.18" y2="119.0" stroke="#1a1a1a" stroke-width="1.0" />
<line x1="472.82" y1="122.0" x2="479.18" y2="121.0" stroke="#1a1a1a" stroke-width="1.0" />
<line x1="472.82" y1="124.0" x2="479.18" y2="123.0" stroke="#1a1a1a" stroke-width="1.0" />
<line x1="472.82" y1="126.0" x2="479.18" y2="125.0" stroke="#1a1a1a" stroke-width="1.0" />
<line x1="472.82" y1="128.0" x2="479.18" y2="127.0" stroke="#1a1a1a" stroke-width="1.0" />
<line x1="472.82" y1="130.0" x2="479.18" y2="129.0" stroke="#1a1a1a" stroke-width="1.0" />
<path d="M470.7,114 L470.7,110.8 Q470.7,107.3 474.2,107.3 L477.8,107.3 Q481.3,107.3 481.3,110.8 L481.3,114 Q476.0,115.2 470.7,114 Z" fill="#fff" stroke="#1a1a1a" stroke-width="1.1" stroke-linejoin="round" stroke-linecap="round" />
<path d="M473.5,109.5 Q476.0,108.1 478.5,109.5" fill="none" stroke="#1a1a1a" stroke-width="0.9" stroke-linejoin="round" stroke-linecap="round" />
<ellipse cx="322.5" cy="116.3" rx="5.5" ry="3.7" fill="#fff" stroke="#1a1a1a" stroke-width="1.3" />
<ellipse cx="322.5" cy="116.115" rx="3.3" ry="1.85" fill="#333" stroke="#1a1a1a" stroke-width="1.0" />
<ellipse cx="322.775" cy="116.744" rx="2.2" ry="0.925" fill="#fff" stroke="#1a1a1a" stroke-width="0" />
<ellipse cx="390.5" cy="106.3" rx="5.5" ry="3.7" fill="#fff" stroke="#1a1a1a" stroke-width="1.3" />
<ellipse cx="390.5" cy="106.115" rx="3.3" ry="1.85" fill="#333" stroke="#1a1a1a" stroke-width="1.0" />
<ellipse cx="390.775" cy="106.744" rx="2.2" ry="0.925" fill="#fff" stroke="#1a1a1a" stroke-width="0" />
<ellipse cx="476.3" cy="138.7" rx="5.8" ry="4" fill="#fff" stroke="#1a1a1a" stroke-width="1.3" />
<ellipse cx="476.3" cy="138.5" rx="3.48" ry="2.0" fill="#333" stroke="#1a1a1a" stroke-width="1.0" />
<ellipse cx="476.59000000000003" cy="139.17999999999998" rx="2.32" ry="1.0" fill="#fff" stroke="#1a1a1a" stroke-width="0" />
<path d="M395,58 Q398,55 402,57 Q414,53 426,57 Q432,60 433,66 Q437,68 435,72 Q431,75 427,72 Q414,76 401,71 Q393,68 394,62 Q392,60 395,58 Z" fill="#fff" stroke="#1a1a1a" stroke-width="1.1" stroke-linejoin="round" stroke-linecap="round" />
<ellipse cx="413.8" cy="64.8" rx="13.8" ry="6.6" fill="none" stroke="#1a1a1a" stroke-width="1.0" />
<path d="M424,59.5 Q428,61 428.5,64" fill="none" stroke="#222" stroke-width="1.6" stroke-linejoin="round" stroke-linecap="round" />
<ellipse cx="397.5" cy="59" rx="1.3" ry="1.2" fill="#1a1a1a" stroke="#1a1a1a" stroke-width="0.8" />
<ellipse cx="431" cy="70.5" rx="1.3" ry="1.2" fill="#1a1a1a" stroke="#1a1a1a" stroke-width="0.8" />
<path d="M397,78.5 L402,75.6 L423,76 Q430,77.5 431,82 Q431,86.5 427,88 L410,89.5 Q400,88.5 396.5,84.5 Q395,81 397,78.5 Z" fill="#fff" stroke="#1a1a1a" stroke-width="1.2" stroke-linejoin="round" stroke-linecap="round" />
<path d="M400.5,80 L404.5,77.8 L421.5,78 Q427,79.5 427.8,82.5 Q427.5,85.5 424,86.5 L410,87.6 Q402,86.8 400,84 Q399,81.8 400.5,80 Z" fill="none" stroke="#1a1a1a" stroke-width="1.0" stroke-linejoin="round" stroke-linecap="round" />
<path d="M416,111.5 L419,102 L429,93.5 L432,93.3 L432.5,97.5 L426,113.5" fill="#fff" stroke="#1a1a1a" stroke-width="1.0" stroke-linejoin="round" stroke-linecap="round" />
<ellipse cx="413.7" cy="120.4" rx="18.3" ry="8.75" fill="#fff" stroke="#1a1a1a" stroke-width="1.1" />
<path d="M416,111.8 L419,102 L429,93.5 L432,93.3 L432.5,97.5 L426,113.5 Q421,112 416,111.8 Z" fill="#fff" stroke="#1a1a1a" stroke-width="1.0" stroke-linejoin="round" stroke-linecap="round" />
<path d="M421,104 L429.5,95.5 L426,111" fill="none" stroke="#333" stroke-width="0.8" stroke-linejoin="round" stroke-linecap="round" />
<path d="M428,97 L424,110" fill="none" stroke="#555" stroke-width="0.6" stroke-linejoin="round" stroke-linecap="round" />
<path d="M419.5,123 Q423,120 426.5,119" fill="none" stroke="#1a1a1a" stroke-width="1.0" stroke-linejoin="round" stroke-linecap="round" />
<ellipse cx="413.75" cy="140.2" rx="15" ry="8.1" fill="#fff" stroke="#1a1a1a" stroke-width="1.2" />
<ellipse cx="413.75" cy="140.2" rx="12.5" ry="6.3" fill="#444" stroke="#1a1a1a" stroke-width="0.8" />
<ellipse cx="406.75" cy="138.7" rx="3" ry="2" fill="#eee" stroke="#1a1a1a" stroke-width="0.5" />
<ellipse cx="413.75" cy="136.7" rx="2.2" ry="1.4" fill="#eee" stroke="#1a1a1a" stroke-width="0.5" />
<ellipse cx="420.25" cy="138.7" rx="3" ry="2" fill="#eee" stroke="#1a1a1a" stroke-width="0.5" />
<ellipse cx="419.75" cy="142.7" rx="2.6" ry="1.6" fill="#eee" stroke="#1a1a1a" stroke-width="0.5" />
<ellipse cx="413.75" cy="143.7" rx="2.4" ry="1.4" fill="#eee" stroke="#1a1a1a" stroke-width="0.5" />
<ellipse cx="407.25" cy="142.7" rx="2.6" ry="1.6" fill="#eee" stroke="#1a1a1a" stroke-width="0.5" />
<ellipse cx="413.75" cy="140.2" rx="2.2" ry="1.4" fill="#eee" stroke="#1a1a1a" stroke-width="0.5" />
<path d="M317,173.5 L317,183 L321.5,186 L351,193.5 L380,198 L430,199.5 L430,194 L392,190 Z" fill="#fff" stroke="#1a1a1a" stroke-width="1.2" stroke-linejoin="round" stroke-linecap="round" />
<path d="M333,140 L333,172 Q335,178 345,180 L380,181 Q390,178 391,170 L391,136" fill="#fff" stroke="#1a1a1a" stroke-width="1.1" stroke-linejoin="round" stroke-linecap="round" />
<line x1="342.5" y1="178" x2="342.5" y2="188" stroke="#1a1a1a" stroke-width="0.8" />
<path d="M392,162 L392,190 L428,192 L434,182 L434,168" fill="#fff" stroke="#1a1a1a" stroke-width="1.1" stroke-linejoin="round" stroke-linecap="round" />
<ellipse cx="414" cy="168" rx="19.5" ry="8.2" fill="#fff" stroke="#1a1a1a" stroke-width="1.1" />
<ellipse cx="414" cy="167" rx="14" ry="5.5" fill="none" stroke="#1a1a1a" stroke-width="0.8" />
<ellipse cx="402" cy="167" rx="2.5" ry="1.8" fill="none" stroke="#1a1a1a" stroke-width="0.8" />
<ellipse cx="414" cy="172" rx="2.6" ry="1.6" fill="#444" stroke="#1a1a1a" stroke-width="0.8" />
<path d="M410,162 L410,166 L414,166 L414,162" fill="none" stroke="#1a1a1a" stroke-width="0.8" stroke-linejoin="round" stroke-linecap="round" />
<path d="M392.5,159 L397,158 L403,159 L403,165 L392.5,165" fill="#fff" stroke="#1a1a1a" stroke-width="0.9" stroke-linejoin="round" stroke-linecap="round" />
<path d="M296,157.7 L300.5,154.7 L346,160 L347.7,164.5 L347,175 L344,177 L321.5,171 L312.5,164.5 L297.5,161.5 Z" fill="#fff" stroke="#1a1a1a" stroke-width="1.1" stroke-linejoin="round" stroke-linecap="round" />
<path d="M312,164 Q316,161 322,163 M330,163 L336,168 M332,168 L338,164 M322,168 L328,166 M326,162 L330,165 M335,161.5 L339,166 M318,166 L324,164.5 M339,170 L343,167 M329,170 L334,172" fill="none" stroke="#1a1a1a" stroke-width="0.7" stroke-linejoin="round" stroke-linecap="round" />
<ellipse cx="346.5" cy="168" rx="1.5" ry="5" fill="#1a1a1a" stroke="#1a1a1a" stroke-width="1.2" />
<ellipse cx="361" cy="131" rx="29.2" ry="13.8" fill="#fff" stroke="#1a1a1a" stroke-width="1.3" />
<defs><pattern id="mesh" width="3.6" height="3.6" patternUnits="userSpaceOnUse" patternTransform="scale(1.25 0.8) rotate(45)"><rect width="3.6" height="3.6" fill="#fff"/><path d="M0,0 L3.6,0 M0,0 L0,3.6" stroke="#111" stroke-width="1.8"/></pattern></defs>
<ellipse cx="361" cy="129.5" rx="25.5" ry="11" fill="url(#mesh)" stroke="#1a1a1a" stroke-width="1.4" />
<path d="M333,147 Q361,160 391,146" fill="none" stroke="#1a1a1a" stroke-width="0.8" stroke-linejoin="round" stroke-linecap="round" />
<path d="M433,196 L445,197.5 L447.5,203 L444,207 L433,205 Q429.5,203 429.5,200 Q430,196.5 433,196 Z" fill="#fff" stroke="#1a1a1a" stroke-width="1.1" stroke-linejoin="round" stroke-linecap="round" />
<ellipse cx="437.5" cy="200.5" rx="3.0" ry="5.0" fill="#fff" stroke="#1a1a1a" stroke-width="1.0" transform="rotate(-15 437.5 200.5)" />
<ellipse cx="444.3" cy="202" rx="3.6" ry="5.0" fill="#fff" stroke="#1a1a1a" stroke-width="1.2" transform="rotate(-20 444.3 202)" />
<ellipse cx="444.6" cy="202.2" rx="2.0" ry="3.0" fill="#fff" stroke="#1a1a1a" stroke-width="0.8" transform="rotate(-20 444.6 202.2)" />
<path d="M438,184 L457,187.5 L459,197.5 L441,194 Z" fill="#fff" stroke="#1a1a1a" stroke-width="1.1" stroke-linejoin="round" stroke-linecap="round" />
<ellipse cx="452" cy="191.8" rx="3.0" ry="5.2" fill="#fff" stroke="#1a1a1a" stroke-width="1.0" transform="rotate(-15 452 191.8)" />
<ellipse cx="460.5" cy="193.3" rx="3.8" ry="5.3" fill="#fff" stroke="#1a1a1a" stroke-width="1.2" transform="rotate(-20 460.5 193.3)" />
<ellipse cx="460.8" cy="193.5" rx="2.2" ry="3.4" fill="#fff" stroke="#1a1a1a" stroke-width="0.8" transform="rotate(-20 460.8 193.5)" />
<ellipse cx="434.5" cy="188.7" rx="6.6" ry="5.2" fill="#fff" stroke="#1a1a1a" stroke-width="1.2" />
<ellipse cx="434.5" cy="188.2" rx="3.6" ry="2.2" fill="#fff" stroke="#1a1a1a" stroke-width="1.0" />
<path d="M430,183 Q433,180.5 437,182" fill="none" stroke="#1a1a1a" stroke-width="1.0" stroke-linejoin="round" stroke-linecap="round" />
<ellipse cx="414.3" cy="213" rx="23.4" ry="10.6" fill="#fff" stroke="#1a1a1a" stroke-width="1.3" />
<ellipse cx="414.3" cy="213" rx="20.2" ry="8.4" fill="#383838" stroke="#1a1a1a" stroke-width="0.8" />
<line x1="414.5" y1="212" x2="415" y2="204" stroke="#fff" stroke-width="2.2" />
<line x1="410" y1="213" x2="393" y2="216.5" stroke="#fff" stroke-width="2.2" />
<line x1="419" y1="214" x2="431" y2="220.5" stroke="#fff" stroke-width="2.2" />
<ellipse cx="414.7" cy="212.3" rx="7.3" ry="2.9" fill="#fff" stroke="#1a1a1a" stroke-width="1.0" />
<ellipse cx="414" cy="234" rx="22" ry="9" fill="none" stroke="#1a1a1a" stroke-width="1.2" />
<ellipse cx="414" cy="234" rx="20" ry="7.6" fill="none" stroke="#1a1a1a" stroke-width="0.8" />
<path d="M394.5,253.5 L394.5,270 Q397,279 414.2,279.3 Q431.5,279 434,270 L434,253.5" fill="#fff" stroke="#1a1a1a" stroke-width="1.2" stroke-linejoin="round" stroke-linecap="round" />
<ellipse cx="414.2" cy="253.5" rx="19.8" ry="8" fill="#fff" stroke="#1a1a1a" stroke-width="1.2" />
<ellipse cx="414.2" cy="254.5" rx="15.5" ry="6" fill="#fff" stroke="#1a1a1a" stroke-width="1.0" />
<path d="M400,252 Q401,257 409,259.5 Q403,258 401.5,254 Z" fill="#111" stroke="#1a1a1a" stroke-width="1.4" stroke-linejoin="round" stroke-linecap="round" />
<path d="M399.5,254 Q400,250 405,249" fill="none" stroke="#111" stroke-width="1.6" stroke-linejoin="round" stroke-linecap="round" />
<ellipse cx="414.2" cy="254" rx="7.5" ry="3.3" fill="#fff" stroke="#1a1a1a" stroke-width="1.0" />
<ellipse cx="414.2" cy="254.5" rx="3.5" ry="1.5" fill="#222" stroke="#1a1a1a" stroke-width="0.8" />
<path d="M424,258.5 Q428,256.5 429,253" fill="none" stroke="#111" stroke-width="1.5" stroke-linejoin="round" stroke-linecap="round" />
<path d="M428,260 L432,258 L432.3,274 L428.5,276.5 Z" fill="#222" stroke="#1a1a1a" stroke-width="0.6" stroke-linejoin="round" stroke-linecap="round" />
<path d="M395,262 Q414,268 433,262" fill="none" stroke="#777" stroke-width="0.5" stroke-linejoin="round" stroke-linecap="round" />
<ellipse cx="414.5" cy="288.5" rx="7.5" ry="4" fill="#fff" stroke="#1a1a1a" stroke-width="1.3" />
<ellipse cx="414.5" cy="288.3" rx="4.5" ry="2.0" fill="#333" stroke="#1a1a1a" stroke-width="1.0" />
<ellipse cx="414.875" cy="288.98" rx="3.0" ry="1.0" fill="#fff" stroke="#1a1a1a" stroke-width="0" />
<path d="M410,297 L419,297 L419,302 L410,302 Z" fill="#fff" stroke="#1a1a1a" stroke-width="1.0" stroke-linejoin="round" stroke-linecap="round" />
<line x1="410" y1="299.5" x2="419" y2="299" stroke="#1a1a1a" stroke-width="0.7" />
<path d="M407,302 L421,302 L421,308 Q414,311 407,308 Z" fill="#fff" stroke="#1a1a1a" stroke-width="1.1" stroke-linejoin="round" stroke-linecap="round" />
<ellipse cx="414" cy="302" rx="7" ry="2" fill="#fff" stroke="#1a1a1a" stroke-width="1.0" />
<line x1="413" y1="309" x2="413" y2="311" stroke="#1a1a1a" stroke-width="1" />
<line x1="416" y1="309" x2="416" y2="311" stroke="#1a1a1a" stroke-width="1" />
<path d="M414.7,312 L413.4,318 L413.4,397 L416.2,397 L416.2,318 Z" fill="#fff" stroke="#1a1a1a" stroke-width="0.9" stroke-linejoin="round" stroke-linecap="round" />
<ellipse cx="414.8" cy="396" rx="1.9" ry="3" fill="#fff" stroke="#1a1a1a" stroke-width="1.1" />
<ellipse cx="415" cy="404.5" rx="5.2" ry="3.4" fill="#fff" stroke="#1a1a1a" stroke-width="1.3" />
<ellipse cx="415" cy="404.33" rx="3.12" ry="1.7" fill="#333" stroke="#1a1a1a" stroke-width="1.0" />
<ellipse cx="415.26" cy="404.908" rx="2.08" ry="0.85" fill="#fff" stroke="#1a1a1a" stroke-width="0" />
<ellipse cx="415.5" cy="411.0" rx="3.8" ry="1.3" fill="none" stroke="#1a1a1a" stroke-width="0.9" />
<ellipse cx="415.5" cy="413.4" rx="3.8" ry="1.3" fill="none" stroke="#1a1a1a" stroke-width="0.9" />
<ellipse cx="415.5" cy="415.8" rx="3.8" ry="1.3" fill="none" stroke="#1a1a1a" stroke-width="0.9" />
<ellipse cx="415.5" cy="418.2" rx="3.8" ry="1.3" fill="none" stroke="#1a1a1a" stroke-width="0.9" />
<ellipse cx="415.5" cy="420.6" rx="3.8" ry="1.3" fill="none" stroke="#1a1a1a" stroke-width="0.9" />
<ellipse cx="415.5" cy="423.0" rx="3.8" ry="1.3" fill="none" stroke="#1a1a1a" stroke-width="0.9" />
<ellipse cx="415.5" cy="425.4" rx="3.8" ry="1.3" fill="none" stroke="#1a1a1a" stroke-width="0.9" />
<ellipse cx="415.5" cy="427.8" rx="3.8" ry="1.3" fill="none" stroke="#1a1a1a" stroke-width="0.9" />
<ellipse cx="415.5" cy="430.2" rx="3.8" ry="1.3" fill="none" stroke="#1a1a1a" stroke-width="0.9" />
<path d="M411.7,411 L411.7,432 M419.3,411 L419.3,432" fill="none" stroke="#1a1a1a" stroke-width="0.8" stroke-linejoin="round" stroke-linecap="round" />
<path d="M392,449 L392,475 Q394,484 415,484.5 Q436,484 438,475 L438,449" fill="#fff" stroke="#1a1a1a" stroke-width="1.2" stroke-linejoin="round" stroke-linecap="round" />
<ellipse cx="415" cy="449" rx="23" ry="9" fill="#fff" stroke="#1a1a1a" stroke-width="1.2" />
<ellipse cx="414.5" cy="444.5" rx="2.5" ry="1.4" fill="#1a1a1a" stroke="#1a1a1a" stroke-width="0.8" />
<path d="M434,454 Q436.5,464 435.3,479 Q438,474.5 438,465 L438,451 Z" fill="#2a2a2a" stroke="#1a1a1a" stroke-width="0.6" stroke-linejoin="round" stroke-linecap="round" />
<path d="M393,458 Q415,466 437,458" fill="none" stroke="#888" stroke-width="0.5" stroke-linejoin="round" stroke-linecap="round" />
<ellipse cx="415" cy="491.5" rx="7" ry="4" fill="#fff" stroke="#1a1a1a" stroke-width="1.3" />
<ellipse cx="415" cy="491.3" rx="4.2" ry="2.0" fill="#333" stroke="#1a1a1a" stroke-width="1.0" />
<ellipse cx="415.35" cy="491.98" rx="2.8000000000000003" ry="1.0" fill="#fff" stroke="#1a1a1a" stroke-width="0" />
<ellipse cx="415" cy="503.5" rx="5.2" ry="3.4" fill="#fff" stroke="#1a1a1a" stroke-width="1.3" />
<ellipse cx="415" cy="503.33" rx="3.12" ry="1.7" fill="#333" stroke="#1a1a1a" stroke-width="1.0" />
<ellipse cx="415.26" cy="503.908" rx="2.08" ry="0.85" fill="#fff" stroke="#1a1a1a" stroke-width="0" />
<path d="M71.5,348.5 Q69,351 70.5,355.5 L85,369.5 L96,360 L90,356.5 Z" fill="#fff" stroke="#1a1a1a" stroke-width="1.1" stroke-linejoin="round" stroke-linecap="round" />
<path d="M72,349 Q75,347 78,349 L90,356.5" fill="none" stroke="#1a1a1a" stroke-width="1.1" stroke-linejoin="round" stroke-linecap="round" />
<line x1="74" y1="354" x2="86" y2="362" stroke="#1a1a1a" stroke-width="0.7" />
<line x1="73" y1="351" x2="80" y2="352" stroke="#1a1a1a" stroke-width="0.7" />
<line x1="78" y1="356" x2="84" y2="352" stroke="#1a1a1a" stroke-width="0.7" />
<path d="M71.5,354.5 L84.5,366.5 L87,362.5 L80,357.5 L76,356 L73.5,352 Z" fill="#2a2a2a" stroke="#1a1a1a" stroke-width="0.5" stroke-linejoin="round" stroke-linecap="round" />
<ellipse cx="91.3" cy="366.6" rx="6" ry="6.8" fill="#fff" stroke="#1a1a1a" stroke-width="1.3" transform="rotate(-40 91.3 366.6)" />
<ellipse cx="91.8" cy="366.2" rx="3.3" ry="4.0" fill="#fff" stroke="#1a1a1a" stroke-width="1.1" transform="rotate(-40 91.8 366.2)" />
<path d="M89.5,368.5 Q89,364.5 93,363.5" fill="none" stroke="#111" stroke-width="1.6" stroke-linejoin="round" stroke-linecap="round" />
<path d="M110,375.8 L120.8,387 Q121,390 118.3,390.8 L108.3,381.7 Z" fill="#fff" stroke="#1a1a1a" stroke-width="1.0" stroke-linejoin="round" stroke-linecap="round" />
<ellipse cx="119.6" cy="389" rx="1.6" ry="2.2" fill="#fff" stroke="#1a1a1a" stroke-width="0.9" transform="rotate(-45 119.6 389)" />
<path d="M100.8,369 L110,372.5 Q114,376 112.5,380.8 L105,384.2 Z" fill="#fff" stroke="#1a1a1a" stroke-width="1.1" stroke-linejoin="round" stroke-linecap="round" />
<line x1="106" y1="371" x2="109.5" y2="382" stroke="#1a1a1a" stroke-width="0.7" />
<ellipse cx="100.8" cy="376.6" rx="3.8" ry="7.2" fill="#fff" stroke="#1a1a1a" stroke-width="1.2" transform="rotate(-25 100.8 376.6)" />
<path d="M123,393 Q121,398 123,404 L127,406 L127,392 Z" fill="#fff" stroke="#1a1a1a" stroke-width="1.0" stroke-linejoin="round" stroke-linecap="round" />
<path d="M125,391 Q130,387 137,388 L144,390.5 Q149,396 147.5,405 Q145,413 138,414 Q129,413.5 125,406 Q122,398 125,391 Z" fill="#fff" stroke="#1a1a1a" stroke-width="1.1" stroke-linejoin="round" stroke-linecap="round" />
<path d="M127,390 L129,392 M131,388.5 L132,391 M136,388 L136.5,390.5" fill="none" stroke="#222" stroke-width="1.2" stroke-linejoin="round" stroke-linecap="round" />
<ellipse cx="139" cy="403" rx="7.6" ry="10.6" fill="#fff" stroke="#1a1a1a" stroke-width="1.2" transform="rotate(35 139 403)" />
<ellipse cx="139.3" cy="403.3" rx="5.6" ry="8.4" fill="#fff" stroke="#1a1a1a" stroke-width="2.2" transform="rotate(35 139.3 403.3)" />
<ellipse cx="139.6" cy="403.6" rx="4.6" ry="7.2" fill="#fff" stroke="#1a1a1a" stroke-width="0.8" transform="rotate(35 139.6 403.6)" />
<path d="M133,397 L136,395.5 M141,394 L144,396.5 M145.5,401 L146,404 M134,410 L137,412" fill="none" stroke="#fff" stroke-width="2.2" stroke-linejoin="round" stroke-linecap="round" />
<ellipse cx="152.5" cy="415" rx="8.5" ry="10.5" fill="none" stroke="#1a1a1a" stroke-width="2.2" transform="rotate(42 152.5 415)" />
<ellipse cx="152.5" cy="415" rx="6.0" ry="8.0" fill="none" stroke="#1a1a1a" stroke-width="1.0" transform="rotate(42 152.5 415)" />
<ellipse cx="163.5" cy="424.5" rx="2.9" ry="5.6" fill="#fff" stroke="#1a1a1a" stroke-width="1.25" transform="rotate(37.8 163.5 424.5)" />
<ellipse cx="166.58" cy="426.89" rx="2.9" ry="5.6" fill="#fff" stroke="#1a1a1a" stroke-width="1.25" transform="rotate(37.8 166.58 426.89)" />
<ellipse cx="169.67" cy="429.28" rx="2.9" ry="5.6" fill="#fff" stroke="#1a1a1a" stroke-width="1.25" transform="rotate(37.8 169.67 429.28)" />
<ellipse cx="172.75" cy="431.67" rx="2.9" ry="5.6" fill="#fff" stroke="#1a1a1a" stroke-width="1.25" transform="rotate(37.8 172.75 431.67)" />
<ellipse cx="175.83" cy="434.06" rx="2.9" ry="5.6" fill="#fff" stroke="#1a1a1a" stroke-width="1.25" transform="rotate(37.8 175.83 434.06)" />
<ellipse cx="178.92" cy="436.44" rx="2.9" ry="5.6" fill="#fff" stroke="#1a1a1a" stroke-width="1.25" transform="rotate(37.8 178.92 436.44)" />
<ellipse cx="182.0" cy="438.83" rx="2.9" ry="5.6" fill="#fff" stroke="#1a1a1a" stroke-width="1.25" transform="rotate(37.8 182.0 438.83)" />
<ellipse cx="185.08" cy="441.22" rx="2.9" ry="5.6" fill="#fff" stroke="#1a1a1a" stroke-width="1.25" transform="rotate(37.8 185.08 441.22)" />
<ellipse cx="188.17" cy="443.61" rx="2.9" ry="5.6" fill="#fff" stroke="#1a1a1a" stroke-width="1.25" transform="rotate(37.8 188.17 443.61)" />
<ellipse cx="191.25" cy="446.0" rx="2.9" ry="5.6" fill="#fff" stroke="#1a1a1a" stroke-width="1.25" transform="rotate(37.8 191.25 446.0)" />
<ellipse cx="194.33" cy="448.39" rx="2.9" ry="5.6" fill="#fff" stroke="#1a1a1a" stroke-width="1.25" transform="rotate(37.8 194.33 448.39)" />
<ellipse cx="197.42" cy="450.78" rx="2.9" ry="5.6" fill="#fff" stroke="#1a1a1a" stroke-width="1.25" transform="rotate(37.8 197.42 450.78)" />
<ellipse cx="200.5" cy="453.17" rx="2.9" ry="5.6" fill="#fff" stroke="#1a1a1a" stroke-width="1.25" transform="rotate(37.8 200.5 453.17)" />
<ellipse cx="203.58" cy="455.56" rx="2.9" ry="5.6" fill="#fff" stroke="#1a1a1a" stroke-width="1.25" transform="rotate(37.8 203.58 455.56)" />
<ellipse cx="206.67" cy="457.94" rx="2.9" ry="5.6" fill="#fff" stroke="#1a1a1a" stroke-width="1.25" transform="rotate(37.8 206.67 457.94)" />
<ellipse cx="209.75" cy="460.33" rx="2.9" ry="5.6" fill="#fff" stroke="#1a1a1a" stroke-width="1.25" transform="rotate(37.8 209.75 460.33)" />
<ellipse cx="212.83" cy="462.72" rx="2.9" ry="5.6" fill="#fff" stroke="#1a1a1a" stroke-width="1.25" transform="rotate(37.8 212.83 462.72)" />
<ellipse cx="215.92" cy="465.11" rx="2.9" ry="5.6" fill="#fff" stroke="#1a1a1a" stroke-width="1.25" transform="rotate(37.8 215.92 465.11)" />
<ellipse cx="219.0" cy="467.5" rx="2.9" ry="5.6" fill="#fff" stroke="#1a1a1a" stroke-width="1.25" transform="rotate(37.8 219.0 467.5)" />
<ellipse cx="229.5" cy="476" rx="6.5" ry="2.3" fill="#fff" stroke="#1a1a1a" stroke-width="1.2" transform="rotate(-15 229.5 476)" />
<ellipse cx="230.0" cy="480" rx="6.5" ry="2.3" fill="#fff" stroke="#1a1a1a" stroke-width="1.2" transform="rotate(-15 230.0 480)" />
<ellipse cx="230.5" cy="484" rx="6.5" ry="2.3" fill="#fff" stroke="#1a1a1a" stroke-width="1.2" transform="rotate(-15 230.5 484)" />
<path d="M223.5,477.5 L224.5,486 M235.5,474 L236.5,482" fill="none" stroke="#1a1a1a" stroke-width="1.0" stroke-linejoin="round" stroke-linecap="round" />
<ellipse cx="243.3" cy="486.8" rx="4.2" ry="4.3" fill="#fff" stroke="#1a1a1a" stroke-width="1.1" />
<line x1="241" y1="489" x2="245.5" y2="484.5" stroke="#1a1a1a" stroke-width="0.8" />
<path d="M250,493.5 L252,491.5 L263.5,500.5 L293,525.5 L292.5,526.5 L261.5,503.5 Z" fill="#fff" stroke="#1a1a1a" stroke-width="1.0" stroke-linejoin="round" stroke-linecap="round" />
<line x1="253.0" y1="495.5" x2="254.2" y2="493.7" stroke="#1a1a1a" stroke-width="1.1" />
<line x1="255.4" y1="497.4" x2="256.6" y2="495.59999999999997" stroke="#1a1a1a" stroke-width="1.1" />
<line x1="257.8" y1="499.3" x2="259.0" y2="497.5" stroke="#1a1a1a" stroke-width="1.1" />
<line x1="260.2" y1="501.2" x2="261.4" y2="499.4" stroke="#1a1a1a" stroke-width="1.1" />
<path d="M302.1,526.4 L327.2,544.2 L320,554.4 L294.9,536.6 Q290.5,530.5 295.5,526.5 Q298.5,524.5 302.1,526.4 Z" fill="#fff" stroke="#1a1a1a" stroke-width="1.1" stroke-linejoin="round" stroke-linecap="round" />
<path d="M296.5,527.5 Q293,531 295.5,535.5" fill="none" stroke="#333" stroke-width="1.2" stroke-linejoin="round" stroke-linecap="round" />
<path d="M297.5,535 L318,550" fill="none" stroke="#555" stroke-width="1.0" stroke-linejoin="round" stroke-linecap="round" />
<ellipse cx="323.6" cy="549.3" rx="4.9" ry="6.7" fill="#fff" stroke="#1a1a1a" stroke-width="1.3" transform="rotate(35.3 323.6 549.3)" />
<ellipse cx="324" cy="549.6" rx="3.5" ry="5.2" fill="#fff" stroke="#1a1a1a" stroke-width="1.0" transform="rotate(35.3 324 549.6)" />
<path d="M320.5,545 Q319.5,550 322,554" fill="none" stroke="#333" stroke-width="1.4" stroke-linejoin="round" stroke-linecap="round" />
<path d="M320.8,525 L330,513 L348.8,505 L385,504.4 L398,505 L406,508 L441,522 L444.4,527.6 L443,547 L437.6,550 L365,550 L361.7,548 L344,537 L326.7,534 Z" fill="#fff" stroke="#1a1a1a" stroke-width="1.4" stroke-linejoin="round" stroke-linecap="round" />
<path d="M322,529 L328,531.5 L345,534 L363,545.5 L437,547.5 L441.5,545" fill="none" stroke="#222" stroke-width="1.0" stroke-linejoin="round" stroke-linecap="round" />
<path d="M322.5,524 L331,514 L341,508.5 L337.5,514 L335.5,522 L331,527.5 L326,528 Z" fill="#666" stroke="#1a1a1a" stroke-width="0.5" stroke-linejoin="round" stroke-linecap="round" />
<path d="M384,540.5 L400,541.5 L425,540.5 L436,537 L441,543 L438,547 L366,546 L372,544 Z" fill="#4a4a4a" stroke="#1a1a1a" stroke-width="0.5" stroke-linejoin="round" stroke-linecap="round" />
<path d="M399,506.5 L405,509 L395,510 Z" fill="#333" stroke="#1a1a1a" stroke-width="0.5" stroke-linejoin="round" stroke-linecap="round" />
<ellipse cx="362.8" cy="520.5" rx="26.2" ry="13.3" fill="#fff" stroke="#1a1a1a" stroke-width="1.3" />
<ellipse cx="413.5" cy="528.5" rx="25" ry="12.3" fill="#fff" stroke="#1a1a1a" stroke-width="1.3" />
<path d="M364.5,532.5 L366,543 Q368.5,546 371.5,543.5 L372.5,532" fill="#fff" stroke="#1a1a1a" stroke-width="1.1" stroke-linejoin="round" stroke-linecap="round" />
<ellipse cx="327.3" cy="526.5" rx="2.8" ry="3.8" fill="#fff" stroke="#1a1a1a" stroke-width="1.0" transform="rotate(-30 327.3 526.5)" />
<ellipse cx="327.3" cy="526.5" rx="1.2" ry="1.8" fill="#333" stroke="#1a1a1a" stroke-width="0.7" transform="rotate(-30 327.3 526.5)" />
<ellipse cx="436" cy="542.3" rx="3.8" ry="2.8" fill="#fff" stroke="#1a1a1a" stroke-width="1.0" />
<ellipse cx="436" cy="542.3" rx="1.8" ry="1.2" fill="#333" stroke="#1a1a1a" stroke-width="0.7" />
<ellipse cx="394.7" cy="509.7" rx="3.2" ry="2.2" fill="#777" stroke="#1a1a1a" stroke-width="0.9" />
<path d="M341,648 L345.5,643 L377,651 L395,652 L401,656 L401,663 L393,671 L370,675.5 L347,673 L341,671 Z" fill="#fff" stroke="#1a1a1a" stroke-width="1.2" stroke-linejoin="round" stroke-linecap="round" />
<path d="M341,652 L347,657 L372,661 L393,659 L401,656" fill="none" stroke="#1a1a1a" stroke-width="0.8" stroke-linejoin="round" stroke-linecap="round" />
<ellipse cx="350" cy="667" rx="4.2" ry="2.8" fill="#fff" stroke="#1a1a1a" stroke-width="1.0" />
<ellipse cx="350" cy="667.5" rx="2.2" ry="1.4" fill="#333" stroke="#1a1a1a" stroke-width="0.8" />
<path d="M346.3,606 L346.3,650 Q352,659 364,660 Q374,659 378,653 L378,612" fill="#fff" stroke="#1a1a1a" stroke-width="1.1" stroke-linejoin="round" stroke-linecap="round" />
<path d="M350,622 Q349,640 352,652 M372,622 Q374,640 372,655" fill="none" stroke="#888" stroke-width="0.5" stroke-linejoin="round" stroke-linecap="round" />
<path d="M366,614.6 L374,614 L381.4,616 L380.5,631 L377,626.5 L373,620 Z" fill="#222" stroke="#1a1a1a" stroke-width="0.5" stroke-linejoin="round" stroke-linecap="round" />
<path d="M377.5,628 L377.5,652 M379.5,630 L379.5,650" fill="none" stroke="#333" stroke-width="0.9" stroke-linejoin="round" stroke-linecap="round" />
<path d="M369,614 L369,650" fill="none" stroke="#777" stroke-width="0.6" stroke-linejoin="round" stroke-linecap="round" />
<path d="M362,622 Q366,640 363,655" fill="none" stroke="#999" stroke-width="0.5" stroke-linejoin="round" stroke-linecap="round" />
<path d="M399,625 L431,615 L437,651 L429,656 L427,667 L425,669 L401,659 L401,627 Z" fill="#fff" stroke="#1a1a1a" stroke-width="1.1" stroke-linejoin="round" stroke-linecap="round" />
<path d="M399,625 L429,645 L427,667" fill="none" stroke="#1a1a1a" stroke-width="1.0" stroke-linejoin="round" stroke-linecap="round" />
<path d="M429,645 L431,615" fill="none" stroke="#777" stroke-width="0.5" stroke-linejoin="round" stroke-linecap="round" />
<path d="M401,644.5 L408,647 L404,652 Z" fill="#222" stroke="#1a1a1a" stroke-width="0.4" stroke-linejoin="round" stroke-linecap="round" />
<path d="M386,620 L398,625 L401,659 L393,660 L388,650 Z" fill="#fff" stroke="#1a1a1a" stroke-width="1.0" stroke-linejoin="round" stroke-linecap="round" />
<path d="M392,630 L394,652" fill="none" stroke="#777" stroke-width="0.5" stroke-linejoin="round" stroke-linecap="round" />
<path d="M381,618 L381,659 L387,659 L387,618" fill="#fff" stroke="#1a1a1a" stroke-width="1.0" stroke-linejoin="round" stroke-linecap="round" />
<line x1="383.5" y1="620" x2="383.5" y2="657" stroke="#555" stroke-width="0.6" />
<path d="M378.5,660 L378.5,673 Q384,677 390,673 L390,660" fill="#fff" stroke="#1a1a1a" stroke-width="1.1" stroke-linejoin="round" stroke-linecap="round" />
<ellipse cx="384.2" cy="660" rx="5.8" ry="2.2" fill="#fff" stroke="#1a1a1a" stroke-width="1.0" />
<path d="M381,666 L381,672 L387,672 L387,666" fill="none" stroke="#1a1a1a" stroke-width="0.8" stroke-linejoin="round" stroke-linecap="round" />
<ellipse cx="428" cy="643.5" rx="4.8" ry="5" fill="#fff" stroke="#1a1a1a" stroke-width="1.1" />
<ellipse cx="427.5" cy="645" rx="2.8" ry="2.2" fill="#fff" stroke="#1a1a1a" stroke-width="0.9" />
<path d="M344.3,599.3 L372,592 L376,600 L380,606 L357.7,620 L350,612 Z" fill="#fff" stroke="#1a1a1a" stroke-width="1.1" stroke-linejoin="round" stroke-linecap="round" />
<path d="M352.3,607.3 L372,600" fill="none" stroke="#1a1a1a" stroke-width="1.0" stroke-linejoin="round" stroke-linecap="round" />
<ellipse cx="345.4" cy="605.7" rx="3.8" ry="5.7" fill="#fff" stroke="#1a1a1a" stroke-width="1.2" transform="rotate(-20 345.4 605.7)" />
<ellipse cx="345.8" cy="605.7" rx="2.4" ry="3.9" fill="#fff" stroke="#1a1a1a" stroke-width="0.9" transform="rotate(-20 345.8 605.7)" />
<ellipse cx="354.4" cy="614.3" rx="4.8" ry="6.3" fill="#fff" stroke="#1a1a1a" stroke-width="1.2" transform="rotate(-20 354.4 614.3)" />
<ellipse cx="354.8" cy="614.3" rx="3.0" ry="4.3" fill="#fff" stroke="#1a1a1a" stroke-width="0.9" transform="rotate(-20 354.8 614.3)" />
<path d="M372,608.7 L404,604.7 L412,610 L412,622 L400.3,627.3 L392.3,626 L373.7,611.3 Z" fill="#fff" stroke="#1a1a1a" stroke-width="1.1" stroke-linejoin="round" stroke-linecap="round" />
<ellipse cx="396.3" cy="622.3" rx="4" ry="5" fill="#fff" stroke="#1a1a1a" stroke-width="1.2" transform="rotate(-20 396.3 622.3)" />
<ellipse cx="396.6" cy="622.5" rx="2.2" ry="3" fill="#fff" stroke="#1a1a1a" stroke-width="0.9" transform="rotate(-20 396.6 622.5)" />
<ellipse cx="407.3" cy="616.3" rx="5" ry="6.3" fill="#fff" stroke="#1a1a1a" stroke-width="1.2" transform="rotate(-20 407.3 616.3)" />
<ellipse cx="407.6" cy="616.5" rx="3.2" ry="4.3" fill="#fff" stroke="#1a1a1a" stroke-width="0.9" transform="rotate(-20 407.6 616.5)" />
<path d="M424,609 L429,602.5 L446,614.5 L440.5,622.5 Z" fill="#fff" stroke="#1a1a1a" stroke-width="1.1" stroke-linejoin="round" stroke-linecap="round" />
<ellipse cx="443.2" cy="618.4" rx="3.3" ry="4.8" fill="#fff" stroke="#1a1a1a" stroke-width="1.2" transform="rotate(-40 443.2 618.4)" />
<ellipse cx="447.2" cy="622.5" rx="3.3" ry="3.6" fill="#fff" stroke="#1a1a1a" stroke-width="1.0" />
<path d="M321,575 L344,565 L365,556 L383,557.5 L410,562 L433,570 L442.7,579.3 L444,586 L443.3,599.3 L438.7,603.3 L398.5,601.5 L325,592.5 L322,581 Z" fill="#fff" stroke="#1a1a1a" stroke-width="1.2" stroke-linejoin="round" stroke-linecap="round" />
<path d="M322,581 L330,587 L400,597 L436,600 L441,598" fill="none" stroke="#1a1a1a" stroke-width="1.0" stroke-linejoin="round" stroke-linecap="round" />
<path d="M328.5,568 Q327,558 333,553 Q339,549.5 344,552 Q348,556 347,566 Q340,570 333,570.5 Z" fill="#fff" stroke="#1a1a1a" stroke-width="1.1" stroke-linejoin="round" stroke-linecap="round" />
<path d="M330,568 Q328,559 333,554" fill="none" stroke="#1a1a1a" stroke-width="2.4" stroke-linejoin="round" stroke-linecap="round" />
<path d="M341.3,565 L341.3,577 Q361,588 379,577 L379,565" fill="#fff" stroke="#1a1a1a" stroke-width="1.1" stroke-linejoin="round" stroke-linecap="round" />
<ellipse cx="361" cy="564.3" rx="17.7" ry="10.7" fill="#fff" stroke="#1a1a1a" stroke-width="1.3" />
<path d="M345,562 Q344,570 352,573.5 Q356,574.5 353,571.5 Q348,566 349,559.5 Z" fill="#1a1a1a" stroke="#1a1a1a" stroke-width="0.6" stroke-linejoin="round" stroke-linecap="round" />
<path d="M355,567 L357,571 M364,566 L366,571" fill="none" stroke="#888" stroke-width="0.5" stroke-linejoin="round" stroke-linecap="round" />
<path d="M378.7,554 L378.7,577 L383.5,577 L383.5,554" fill="#fff" stroke="#1a1a1a" stroke-width="1.0" stroke-linejoin="round" stroke-linecap="round" />
<ellipse cx="381.1" cy="554" rx="2.4" ry="1.2" fill="#fff" stroke="#1a1a1a" stroke-width="1.0" />
<ellipse cx="413.3" cy="585.5" rx="24" ry="13.3" fill="#111" stroke="#1a1a1a" stroke-width="1.0" />
<ellipse cx="421" cy="579.6" rx="21" ry="10.8" fill="#fff" stroke="#1a1a1a" stroke-width="1.0" />
<path d="M414,594 L414,600 L424,600 L424,594 Z" fill="#111" stroke="#1a1a1a" stroke-width="0.5" stroke-linejoin="round" stroke-linecap="round" />
<ellipse cx="328" cy="576" rx="2.6" ry="1.6" fill="#fff" stroke="#1a1a1a" stroke-width="0.9" />
<ellipse cx="379" cy="584.5" rx="2.6" ry="1.6" fill="#fff" stroke="#1a1a1a" stroke-width="0.9" />
<ellipse cx="369.5" cy="593" rx="2.6" ry="1.6" fill="#fff" stroke="#1a1a1a" stroke-width="0.9" />
<ellipse cx="434" cy="596.5" rx="2.6" ry="1.6" fill="#fff" stroke="#1a1a1a" stroke-width="0.9" />
<g transform="translate(227 630) rotate(-22.4)"><path d="M2,-2.4 L18.2,-2.1 L19.3,-1.1 L27.6,-0.8 L27.6,0.8 L19.3,1.1 L18.2,2.1 L2,2.4 Z" fill="#fff" stroke="#1a1a1a" stroke-width="1.1"/><line x1="5.5" y1="-2.2" x2="5.5" y2="2.2" stroke="#1a1a1a" stroke-width="0.7"/><ellipse cx="0" cy="0" rx="3.8" ry="4.6" fill="#fff" stroke="#1a1a1a" stroke-width="1.1"/><ellipse cx="1.2" cy="0" rx="3.0" ry="4.6" fill="#fff" stroke="#1a1a1a" stroke-width="0.9"/><line x1="-2.5" y1="-1.5" x2="2.5" y2="1.5" stroke="#1a1a1a" stroke-width="1"/></g>
<ellipse cx="266.5" cy="614.5" rx="2.2" ry="6.6" fill="#fff" stroke="#1a1a1a" stroke-width="1.3" transform="rotate(-24.6 266.5 614.5)" />
<ellipse cx="269.21" cy="613.26" rx="2.2" ry="6.6" fill="#fff" stroke="#1a1a1a" stroke-width="1.3" transform="rotate(-24.6 269.21 613.26)" />
<ellipse cx="271.93" cy="612.01" rx="2.2" ry="6.6" fill="#fff" stroke="#1a1a1a" stroke-width="1.3" transform="rotate(-24.6 271.93 612.01)" />
<ellipse cx="274.64" cy="610.77" rx="2.2" ry="6.6" fill="#fff" stroke="#1a1a1a" stroke-width="1.3" transform="rotate(-24.6 274.64 610.77)" />
<ellipse cx="277.36" cy="609.53" rx="2.2" ry="6.6" fill="#fff" stroke="#1a1a1a" stroke-width="1.3" transform="rotate(-24.6 277.36 609.53)" />
<ellipse cx="280.07" cy="608.29" rx="2.2" ry="6.6" fill="#fff" stroke="#1a1a1a" stroke-width="1.3" transform="rotate(-24.6 280.07 608.29)" />
<ellipse cx="282.79" cy="607.04" rx="2.2" ry="6.6" fill="#fff" stroke="#1a1a1a" stroke-width="1.3" transform="rotate(-24.6 282.79 607.04)" />
<ellipse cx="285.5" cy="605.8" rx="2.2" ry="6.6" fill="#fff" stroke="#1a1a1a" stroke-width="1.3" transform="rotate(-24.6 285.5 605.8)" />
<g transform="translate(259.5 657.5) rotate(-24.4)"><path d="M2,-2.4 L15.9,-2.1 L16.9,-1.1 L24.2,-0.8 L24.2,0.8 L16.9,1.1 L15.9,2.1 L2,2.4 Z" fill="#fff" stroke="#1a1a1a" stroke-width="1.1"/><line x1="4.8" y1="-2.2" x2="4.8" y2="2.2" stroke="#1a1a1a" stroke-width="0.7"/><ellipse cx="0" cy="0" rx="3.8" ry="4.6" fill="#fff" stroke="#1a1a1a" stroke-width="1.1"/><ellipse cx="1.2" cy="0" rx="3.0" ry="4.6" fill="#fff" stroke="#1a1a1a" stroke-width="0.9"/><line x1="-2.5" y1="-1.5" x2="2.5" y2="1.5" stroke="#1a1a1a" stroke-width="1"/></g>
<ellipse cx="297.0" cy="640.7" rx="2.1" ry="6.0" fill="#fff" stroke="#1a1a1a" stroke-width="1.3" transform="rotate(-25.3 297.0 640.7)" />
<ellipse cx="299.75" cy="639.4" rx="2.1" ry="6.0" fill="#fff" stroke="#1a1a1a" stroke-width="1.3" transform="rotate(-25.3 299.75 639.4)" />
<ellipse cx="302.5" cy="638.1" rx="2.1" ry="6.0" fill="#fff" stroke="#1a1a1a" stroke-width="1.3" transform="rotate(-25.3 302.5 638.1)" />
<ellipse cx="305.25" cy="636.8" rx="2.1" ry="6.0" fill="#fff" stroke="#1a1a1a" stroke-width="1.3" transform="rotate(-25.3 305.25 636.8)" />
<ellipse cx="308.0" cy="635.5" rx="2.1" ry="6.0" fill="#fff" stroke="#1a1a1a" stroke-width="1.3" transform="rotate(-25.3 308.0 635.5)" />
<path d="M301.5,671 L301.5,679 Q305.7,681.5 310,679 L310,671" fill="#fff" stroke="#1a1a1a" stroke-width="1.1" stroke-linejoin="round" stroke-linecap="round" />
<path d="M308,673 L308,679.5" fill="none" stroke="#333" stroke-width="1.2" stroke-linejoin="round" stroke-linecap="round" />
<ellipse cx="305.7" cy="668.8" rx="7" ry="4.2" fill="#fff" stroke="#1a1a1a" stroke-width="1.3" />
<ellipse cx="305.5" cy="668.4" rx="3.3" ry="1.8" fill="#fff" stroke="#1a1a1a" stroke-width="1.1" />
<path d="M302.5,668.2 Q305.5,666 308.5,668.2" fill="none" stroke="#222" stroke-width="1.3" stroke-linejoin="round" stroke-linecap="round" />
<path d="M478.3,536 L478.3,544.5 Q482.6,547 487,544.5 L487,536" fill="#fff" stroke="#1a1a1a" stroke-width="1.1" stroke-linejoin="round" stroke-linecap="round" />
<path d="M485,538 L485,545" fill="none" stroke="#333" stroke-width="1.2" stroke-linejoin="round" stroke-linecap="round" />
<ellipse cx="482.8" cy="533" rx="7.3" ry="4.6" fill="#fff" stroke="#1a1a1a" stroke-width="1.3" />
<ellipse cx="482.6" cy="532.6" rx="3.6" ry="2.0" fill="#fff" stroke="#1a1a1a" stroke-width="1.1" />
<path d="M479.5,532.5 Q482.6,530 485.7,532.5" fill="none" stroke="#222" stroke-width="1.3" stroke-linejoin="round" stroke-linecap="round" />
<ellipse cx="478.8" cy="629" rx="2.8" ry="4.6" fill="#1e1e1e" stroke="#1a1a1a" stroke-width="1.4" />
<ellipse cx="478.8" cy="629.5" rx="0.9" ry="1.3" fill="#aaa" stroke="#aaa" stroke-width="0.5" />
<path d="M486,622 L494,620 L494,630 L487,631 Q484.5,626.5 486,622 Z" fill="#fff" stroke="#1a1a1a" stroke-width="1.0" stroke-linejoin="round" stroke-linecap="round" />
<path d="M494,619.5 Q498,618 501,620 Q502.5,625 501,629.5 Q497,631.5 494,630 Z" fill="#fff" stroke="#1a1a1a" stroke-width="1.1" stroke-linejoin="round" stroke-linecap="round" />
<line x1="497.5" y1="619" x2="497.5" y2="630.5" stroke="#1a1a1a" stroke-width="0.9" />
<line x1="489" y1="622" x2="489" y2="630" stroke="#666" stroke-width="0.6" />
<path d="M450.5,624.5 Q455,634 468,640.5 Q487,646 513.5,640 L515.5,634.5 Q490,639 476,635.5 Q461,630 455,621.5 Z" fill="#fff" stroke="#1a1a1a" stroke-width="1.1" stroke-linejoin="round" stroke-linecap="round" />
<path d="M452.5,625.5 Q457.5,634.5 469,639.5 Q488,644 513,638.8" fill="none" stroke="#222" stroke-width="2.8" stroke-linejoin="round" stroke-linecap="round" />
<path d="M458,627 Q466,634 478,637" fill="none" stroke="#555" stroke-width="0.8" stroke-linejoin="round" stroke-linecap="round" />
<ellipse cx="515.5" cy="637.2" rx="1.8" ry="3" fill="#fff" stroke="#1a1a1a" stroke-width="1.0" />
<path d="M518.5,636 Q519,632 523,633.5 Q534,641 539,656 Q541,668 541,705 Q538,709 534,707 L533.5,665 Q532,652 522,641 Q518,639 518.5,636 Z" fill="#fff" stroke="#1a1a1a" stroke-width="1.2" stroke-linejoin="round" stroke-linecap="round" />
<path d="M526,637.5 Q534.5,645.5 537.3,658 Q538.3,668 538.5,704" fill="none" stroke="#222" stroke-width="2.8" stroke-linejoin="round" stroke-linecap="round" />
<ellipse cx="537.3" cy="706" rx="3.6" ry="2" fill="#fff" stroke="#1a1a1a" stroke-width="1.0" />
<path d="M474.5,647.5 L477,645.5 L483,651 L480.5,653.5 Z" fill="#fff" stroke="#1a1a1a" stroke-width="1.0" stroke-linejoin="round" stroke-linecap="round" />
<path d="M479.5,652 L485,648.5 L493,656 L490,661.5 L485,660 Z" fill="#fff" stroke="#1a1a1a" stroke-width="1.1" stroke-linejoin="round" stroke-linecap="round" />
<ellipse cx="491.3" cy="658.7" rx="2.3" ry="3.2" fill="#fff" stroke="#1a1a1a" stroke-width="1.0" transform="rotate(-40 491.3 658.7)" />
<line x1="483.5" y1="650" x2="482" y2="657" stroke="#1a1a1a" stroke-width="1.4" />
<ellipse cx="495.6" cy="664" rx="5.0" ry="3.0" fill="#fff" stroke="#1a1a1a" stroke-width="2.0" transform="rotate(-52 495.6 664)" />
<path d="M497,669 L502,663 L516,671.5 L513,682.5 Z" fill="#fff" stroke="#1a1a1a" stroke-width="1.1" stroke-linejoin="round" stroke-linecap="round" />
<path d="M499,667 L503,664 M500,670 L505,665 M502,672 L507,666.5 M504,674 L509,668.5" fill="none" stroke="#1a1a1a" stroke-width="0.9" stroke-linejoin="round" stroke-linecap="round" />
<ellipse cx="514.7" cy="677" rx="4.2" ry="6.3" fill="#fff" stroke="#1a1a1a" stroke-width="1.2" transform="rotate(-35 514.7 677)" />
<ellipse cx="454.3" cy="668" rx="5.0" ry="2.9" fill="#fff" stroke="#1a1a1a" stroke-width="2.0" transform="rotate(-45 454.3 668)" />
<line x1="467.5" y1="678.7" x2="476" y2="684" stroke="#1a1a1a" stroke-width="1.1" />
<path d="M475.5,683 L480,680.5 L488.5,688 L485,695.5 L478,690.5 Q474,687 475.5,683 Z" fill="#fff" stroke="#1a1a1a" stroke-width="1.1" stroke-linejoin="round" stroke-linecap="round" />
<ellipse cx="485.4" cy="691.3" rx="3.6" ry="5" fill="#fff" stroke="#1a1a1a" stroke-width="1.2" transform="rotate(-40 485.4 691.3)" />
<polyline points="440,643 454.7,652 471,644" fill="none" stroke="#6e6e6e" stroke-width="0.8" stroke-linejoin="round" />
<line x1="440" y1="657.7" x2="451" y2="665.5" stroke="#6e6e6e" stroke-width="0.8" />
<line x1="457" y1="670.5" x2="467.5" y2="678.7" stroke="#6e6e6e" stroke-width="0.8" />
<line x1="432.5" y1="648" x2="450" y2="664" stroke="#6e6e6e" stroke-width="0.8" />
<path d="M405.5,675 Q410,671.5 416.5,675.5 Q411,680 405.5,675 Z" fill="#fff" stroke="#1a1a1a" stroke-width="0.9" stroke-linejoin="round" stroke-linecap="round" />
<line x1="416.5" y1="675.5" x2="428" y2="676.5" stroke="#6e6e6e" stroke-width="0.8" />
<path d="M403.5,679 Q408,676.5 412,680 Q409,696 414,702 Q421,708.5 433,710.5 L434,718 Q417,718 407,709 Q399,699 403.5,679 Z" fill="#fff" stroke="#1a1a1a" stroke-width="1.2" stroke-linejoin="round" stroke-linecap="round" />
<path d="M404.5,686 Q403,699 410,706.5 Q420,714 433,715.5" fill="none" stroke="#2a2a2a" stroke-width="3.2" stroke-linejoin="round" stroke-linecap="round" />
<line x1="415" y1="703" x2="423" y2="700.5" stroke="#6e6e6e" stroke-width="0.8" />
<ellipse cx="433.5" cy="714.2" rx="1.8" ry="3.8" fill="#fff" stroke="#1a1a1a" stroke-width="1.0" />
<path d="M436.5,710.5 Q452,711 466,721.5 Q478,732 485,745 L479,751 Q472,738 462,729 Q450,719.5 436.5,718 Z" fill="#fff" stroke="#1a1a1a" stroke-width="1.2" stroke-linejoin="round" stroke-linecap="round" />
<path d="M438,715.8 Q451,717 462.5,726 Q472.5,736 479.5,748" fill="none" stroke="#2a2a2a" stroke-width="3.2" stroke-linejoin="round" stroke-linecap="round" />
<ellipse cx="482" cy="748.3" rx="3.5" ry="2.4" fill="#fff" stroke="#1a1a1a" stroke-width="1.0" transform="rotate(-40 482 748.3)" />
<path d="M392.3,683 L395.3,683 L395.3,708 L392.3,708 Z" fill="#fff" stroke="#1a1a1a" stroke-width="1.0" stroke-linejoin="round" stroke-linecap="round" />
<ellipse cx="393.8" cy="683" rx="1.6" ry="0.8" fill="#fff" stroke="#1a1a1a" stroke-width="0.9" />
<path d="M391.8,707 L395.8,707 L395.8,716 L391.8,716 Z" fill="#fff" stroke="#1a1a1a" stroke-width="1.0" stroke-linejoin="round" stroke-linecap="round" />
<line x1="391.8" y1="708.5" x2="395.8" y2="707.9" stroke="#1a1a1a" stroke-width="0.9" />
<line x1="391.8" y1="710.5" x2="395.8" y2="709.9" stroke="#1a1a1a" stroke-width="0.9" />
<line x1="391.8" y1="712.5" x2="395.8" y2="711.9" stroke="#1a1a1a" stroke-width="0.9" />
<line x1="391.8" y1="714.5" x2="395.8" y2="713.9" stroke="#1a1a1a" stroke-width="0.9" />
<ellipse cx="361.3" cy="707" rx="17.2" ry="9.5" fill="none" stroke="#1a1a1a" stroke-width="2.4" />
<ellipse cx="361.3" cy="707" rx="14.5" ry="7.6" fill="none" stroke="#1a1a1a" stroke-width="1.0" />
<ellipse cx="394" cy="722" rx="7.3" ry="3.4" fill="#fff" stroke="#1a1a1a" stroke-width="1.2" />
<ellipse cx="394" cy="721.8" rx="3.5" ry="1.5" fill="#fff" stroke="#1a1a1a" stroke-width="0.9" />
<ellipse cx="383.3" cy="730.7" rx="7.3" ry="3.4" fill="#fff" stroke="#1a1a1a" stroke-width="1.2" />
<ellipse cx="383.3" cy="730.5" rx="3.5" ry="1.5" fill="#fff" stroke="#1a1a1a" stroke-width="0.9" />
<path d="M389,733 L389,739 Q395,742 401,739 L401,733" fill="#fff" stroke="#1a1a1a" stroke-width="1.1" stroke-linejoin="round" stroke-linecap="round" />
<ellipse cx="395" cy="733" rx="6" ry="3" fill="#fff" stroke="#1a1a1a" stroke-width="1.1" />
<line x1="392" y1="735" x2="392" y2="740" stroke="#1a1a1a" stroke-width="0.8" />
<line x1="398" y1="735" x2="398" y2="740" stroke="#1a1a1a" stroke-width="0.8" />
<path d="M379,746 L379,751 Q385,754 390.5,751 L390.5,746" fill="#fff" stroke="#1a1a1a" stroke-width="1.1" stroke-linejoin="round" stroke-linecap="round" />
<ellipse cx="384.7" cy="746" rx="5.8" ry="3" fill="#fff" stroke="#1a1a1a" stroke-width="1.1" />
<line x1="382" y1="748" x2="382" y2="752" stroke="#1a1a1a" stroke-width="0.8" />
<line x1="388" y1="748" x2="388" y2="752" stroke="#1a1a1a" stroke-width="0.8" />
</svg></body></html>
